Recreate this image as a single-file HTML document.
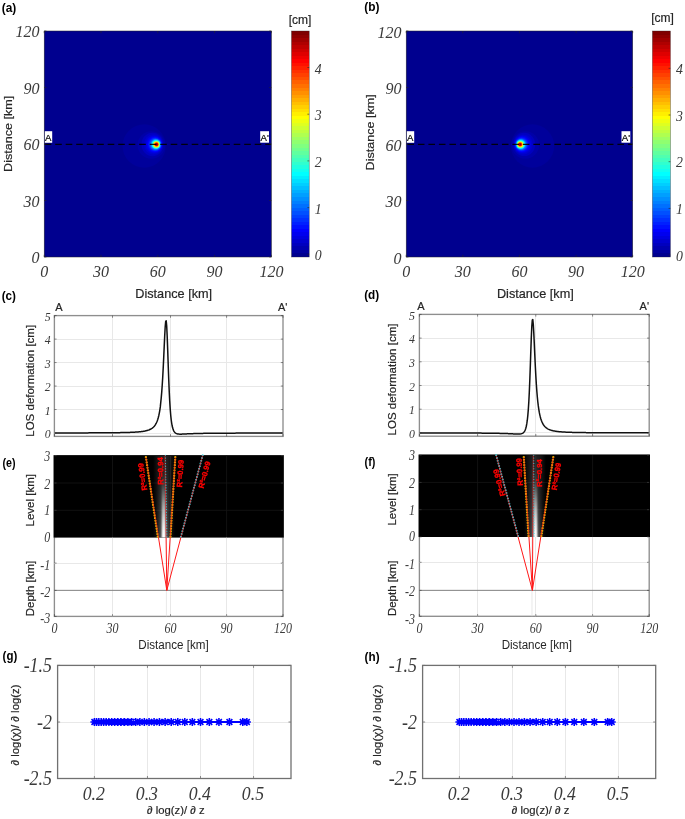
<!DOCTYPE html>
<html><head><meta charset="utf-8"><title>Figure</title>
<style>
html,body{margin:0;padding:0;background:#fff;}
body{width:685px;height:819px;overflow:hidden;font-family:"Liberation Sans",sans-serif;}
svg{display:block;}
</style></head><body>
<svg width="685" height="819" viewBox="0 0 685 819">
<rect x="0" y="0" width="685" height="819" fill="#fff"/>
<defs><filter id="idf" x="0" y="0" width="685" height="819" filterUnits="userSpaceOnUse" color-interpolation-filters="sRGB"><feOffset dx="0" dy="0"/></filter></defs>
<g filter="url(#idf)">
<clipPath id="hca"><rect x="44.2" y="31.0" width="227.20" height="226.00"/></clipPath>
<rect x="44.2" y="31.0" width="227.20" height="226.00" fill="#00008F"/>
<g clip-path="url(#hca)">
<circle cx="144.20" cy="146.00" r="21.7" fill="#00009B"/>
<circle cx="151.40" cy="145.00" r="13.8" fill="#0000A8"/>
<ellipse cx="152.51" cy="144.40" rx="10.98" ry="11.74" fill="#0000BF"/>
<ellipse cx="153.48" cy="144.40" rx="9.52" ry="10.03" fill="#0000CF"/>
<ellipse cx="154.06" cy="144.40" rx="8.56" ry="8.97" fill="#0000DF"/>
<ellipse cx="154.44" cy="144.40" rx="7.84" ry="8.18" fill="#0000EF"/>
<ellipse cx="154.73" cy="144.40" rx="7.29" ry="7.57" fill="#0000FF"/>
<ellipse cx="154.95" cy="144.40" rx="6.83" ry="7.08" fill="#0010FF"/>
<ellipse cx="155.12" cy="144.40" rx="6.44" ry="6.66" fill="#0020FF"/>
<ellipse cx="155.26" cy="144.40" rx="6.12" ry="6.29" fill="#0030FF"/>
<ellipse cx="155.39" cy="144.40" rx="5.83" ry="5.98" fill="#0040FF"/>
<ellipse cx="155.50" cy="144.40" rx="5.57" ry="5.72" fill="#0050FF"/>
<ellipse cx="155.58" cy="144.40" rx="5.34" ry="5.49" fill="#0060FF"/>
<ellipse cx="155.67" cy="144.40" rx="5.13" ry="5.26" fill="#0070FF"/>
<ellipse cx="155.73" cy="144.40" rx="4.92" ry="5.04" fill="#0080FF"/>
<ellipse cx="155.79" cy="144.40" rx="4.75" ry="4.88" fill="#008FFF"/>
<ellipse cx="155.84" cy="144.40" rx="4.58" ry="4.70" fill="#009FFF"/>
<ellipse cx="155.90" cy="144.40" rx="4.45" ry="4.54" fill="#00AFFF"/>
<ellipse cx="155.94" cy="144.40" rx="4.30" ry="4.39" fill="#00BFFF"/>
<ellipse cx="155.99" cy="144.40" rx="4.17" ry="4.24" fill="#00CFFF"/>
<ellipse cx="156.01" cy="144.40" rx="4.03" ry="4.13" fill="#00DFFF"/>
<ellipse cx="156.05" cy="144.40" rx="3.92" ry="3.98" fill="#00EFFF"/>
<ellipse cx="156.09" cy="144.40" rx="3.81" ry="3.86" fill="#00FFFF"/>
<ellipse cx="156.11" cy="144.40" rx="3.67" ry="3.75" fill="#10FFEF"/>
<ellipse cx="156.13" cy="144.40" rx="3.58" ry="3.64" fill="#20FFDF"/>
<ellipse cx="156.16" cy="144.40" rx="3.46" ry="3.52" fill="#30FFCF"/>
<ellipse cx="156.18" cy="144.40" rx="3.37" ry="3.45" fill="#40FFBF"/>
<ellipse cx="156.20" cy="144.40" rx="3.28" ry="3.33" fill="#50FFAF"/>
<ellipse cx="156.24" cy="144.40" rx="3.20" ry="3.26" fill="#60FF9F"/>
<ellipse cx="156.26" cy="144.40" rx="3.11" ry="3.14" fill="#70FF8F"/>
<ellipse cx="156.28" cy="144.40" rx="3.01" ry="3.07" fill="#80FF80"/>
<ellipse cx="156.30" cy="144.40" rx="2.92" ry="2.95" fill="#8FFF70"/>
<ellipse cx="156.32" cy="144.40" rx="2.86" ry="2.88" fill="#9FFF60"/>
<ellipse cx="156.33" cy="144.40" rx="2.76" ry="2.80" fill="#AFFF50"/>
<ellipse cx="156.33" cy="144.40" rx="2.69" ry="2.73" fill="#BFFF40"/>
<ellipse cx="156.37" cy="144.40" rx="2.61" ry="2.65" fill="#CFFF30"/>
<ellipse cx="156.37" cy="144.40" rx="2.54" ry="2.57" fill="#DFFF20"/>
<ellipse cx="156.37" cy="144.40" rx="2.46" ry="2.50" fill="#EFFF10"/>
<ellipse cx="156.41" cy="144.40" rx="2.39" ry="2.42" fill="#FFFF00"/>
<ellipse cx="156.41" cy="144.40" rx="2.31" ry="2.35" fill="#FFEF00"/>
<ellipse cx="156.41" cy="144.40" rx="2.23" ry="2.27" fill="#FFDF00"/>
<ellipse cx="156.43" cy="144.40" rx="2.18" ry="2.20" fill="#FFCF00"/>
<ellipse cx="156.45" cy="144.40" rx="2.08" ry="2.12" fill="#FFBF00"/>
<ellipse cx="156.47" cy="144.40" rx="2.03" ry="2.04" fill="#FFAF00"/>
<ellipse cx="156.47" cy="144.40" rx="1.95" ry="1.97" fill="#FF9F00"/>
<ellipse cx="156.49" cy="144.40" rx="1.89" ry="1.89" fill="#FF8F00"/>
<ellipse cx="156.49" cy="144.40" rx="1.82" ry="1.86" fill="#FF8000"/>
<ellipse cx="156.49" cy="144.40" rx="1.74" ry="1.78" fill="#FF7000"/>
<ellipse cx="156.51" cy="144.40" rx="1.69" ry="1.70" fill="#FF6000"/>
<ellipse cx="156.51" cy="144.40" rx="1.61" ry="1.63" fill="#FF5000"/>
<ellipse cx="156.52" cy="144.40" rx="1.55" ry="1.55" fill="#FF4000"/>
<ellipse cx="156.52" cy="144.40" rx="1.48" ry="1.48" fill="#FF3000"/>
<ellipse cx="156.54" cy="144.40" rx="1.38" ry="1.40" fill="#FF2000"/>
<ellipse cx="156.54" cy="144.40" rx="1.31" ry="1.33" fill="#FF1000"/>
<ellipse cx="156.54" cy="144.40" rx="1.23" ry="1.25" fill="#FF0000"/>
<ellipse cx="156.56" cy="144.40" rx="1.17" ry="1.17" fill="#EF0000"/>
<ellipse cx="156.58" cy="144.40" rx="1.08" ry="1.10" fill="#DF0000"/>
<ellipse cx="156.58" cy="144.40" rx="1.00" ry="1.02" fill="#CF0000"/>
<ellipse cx="156.58" cy="144.40" rx="0.89" ry="0.91" fill="#BF0000"/>
<ellipse cx="156.58" cy="144.40" rx="0.81" ry="0.80" fill="#AF0000"/>
<ellipse cx="156.58" cy="144.40" rx="0.70" ry="0.72" fill="#9F0000"/>
<ellipse cx="156.60" cy="144.40" rx="0.57" ry="0.57" fill="#8F0000"/>
<ellipse cx="156.60" cy="144.40" rx="0.42" ry="0.42" fill="#800000"/>
</g>
<line x1="44.20" y1="144.40" x2="270.90" y2="144.40" stroke="#000" stroke-width="1.3" stroke-dasharray="6.6 3.9" stroke-dashoffset="-0.5" stroke-opacity="0.9"/>
<rect x="44.70" y="131.2" width="7.5" height="11.6" fill="#fff"/>
<text x="45.10" y="141.00" font-family="Liberation Sans, sans-serif" font-size="9.6" text-anchor="start" fill="#000" stroke="#000" stroke-width="0.2" >A</text>
<rect x="260.20" y="131.2" width="8.8" height="11.5" fill="#fff"/>
<text x="260.50" y="141.00" font-family="Liberation Sans, sans-serif" font-size="9.6" text-anchor="start" fill="#000" stroke="#000" stroke-width="0.2" >A'</text>
<rect x="44.20" y="31.00" width="227.20" height="226.00" fill="none" stroke="#262626" stroke-width="0.5"/>
<line x1="44.20" y1="257.00" x2="44.20" y2="254.80" stroke="#262626" stroke-width="0.6" />
<line x1="44.20" y1="31.00" x2="44.20" y2="33.20" stroke="#262626" stroke-width="0.6" />
<line x1="44.20" y1="257.00" x2="46.40" y2="257.00" stroke="#262626" stroke-width="0.6" />
<line x1="271.40" y1="257.00" x2="269.20" y2="257.00" stroke="#262626" stroke-width="0.6" />
<text x="44.20" y="277.00" font-family="Liberation Serif, sans-serif" font-size="16" text-anchor="middle" fill="#3a3a3a" font-style="italic" >0</text>
<text x="39.40" y="263.20" font-family="Liberation Serif, sans-serif" font-size="16" text-anchor="end" fill="#3a3a3a" font-style="italic" >0</text>
<line x1="101.00" y1="257.00" x2="101.00" y2="254.80" stroke="#262626" stroke-width="0.6" />
<line x1="101.00" y1="31.00" x2="101.00" y2="33.20" stroke="#262626" stroke-width="0.6" />
<line x1="44.20" y1="200.50" x2="46.40" y2="200.50" stroke="#262626" stroke-width="0.6" />
<line x1="271.40" y1="200.50" x2="269.20" y2="200.50" stroke="#262626" stroke-width="0.6" />
<text x="101.00" y="277.00" font-family="Liberation Serif, sans-serif" font-size="16" text-anchor="middle" fill="#3a3a3a" font-style="italic" >30</text>
<text x="39.40" y="206.70" font-family="Liberation Serif, sans-serif" font-size="16" text-anchor="end" fill="#3a3a3a" font-style="italic" >30</text>
<line x1="157.80" y1="257.00" x2="157.80" y2="254.80" stroke="#262626" stroke-width="0.6" />
<line x1="157.80" y1="31.00" x2="157.80" y2="33.20" stroke="#262626" stroke-width="0.6" />
<line x1="44.20" y1="144.00" x2="46.40" y2="144.00" stroke="#262626" stroke-width="0.6" />
<line x1="271.40" y1="144.00" x2="269.20" y2="144.00" stroke="#262626" stroke-width="0.6" />
<text x="157.80" y="277.00" font-family="Liberation Serif, sans-serif" font-size="16" text-anchor="middle" fill="#3a3a3a" font-style="italic" >60</text>
<text x="39.40" y="150.20" font-family="Liberation Serif, sans-serif" font-size="16" text-anchor="end" fill="#3a3a3a" font-style="italic" >60</text>
<line x1="214.60" y1="257.00" x2="214.60" y2="254.80" stroke="#262626" stroke-width="0.6" />
<line x1="214.60" y1="31.00" x2="214.60" y2="33.20" stroke="#262626" stroke-width="0.6" />
<line x1="44.20" y1="87.50" x2="46.40" y2="87.50" stroke="#262626" stroke-width="0.6" />
<line x1="271.40" y1="87.50" x2="269.20" y2="87.50" stroke="#262626" stroke-width="0.6" />
<text x="214.60" y="277.00" font-family="Liberation Serif, sans-serif" font-size="16" text-anchor="middle" fill="#3a3a3a" font-style="italic" >90</text>
<text x="39.40" y="93.70" font-family="Liberation Serif, sans-serif" font-size="16" text-anchor="end" fill="#3a3a3a" font-style="italic" >90</text>
<line x1="271.40" y1="257.00" x2="271.40" y2="254.80" stroke="#262626" stroke-width="0.6" />
<line x1="271.40" y1="31.00" x2="271.40" y2="33.20" stroke="#262626" stroke-width="0.6" />
<line x1="44.20" y1="31.00" x2="46.40" y2="31.00" stroke="#262626" stroke-width="0.6" />
<line x1="271.40" y1="31.00" x2="269.20" y2="31.00" stroke="#262626" stroke-width="0.6" />
<text x="271.40" y="277.00" font-family="Liberation Serif, sans-serif" font-size="16" text-anchor="middle" fill="#3a3a3a" font-style="italic" >120</text>
<text x="39.40" y="37.20" font-family="Liberation Serif, sans-serif" font-size="16" text-anchor="end" fill="#3a3a3a" font-style="italic" >120</text>
<text x="173.70" y="298.00" font-family="Liberation Sans, sans-serif" font-size="12.7" text-anchor="middle" fill="#262626" stroke="#262626" stroke-width="0.2" >Distance [km]</text>
<text transform="translate(12.20 133.8) rotate(-90) scale(1 0.93)" font-family="Liberation Sans, sans-serif" font-size="12.6" text-anchor="middle" fill="#262626" stroke="#262626" stroke-width="0.2">Distance [km]</text>
<defs><linearGradient id="cba" x1="0" y1="1" x2="0" y2="0"><stop offset="0.00000" stop-color="#00008F"/><stop offset="0.01562" stop-color="#00008F"/><stop offset="0.01562" stop-color="#00009F"/><stop offset="0.03125" stop-color="#00009F"/><stop offset="0.03125" stop-color="#0000AF"/><stop offset="0.04688" stop-color="#0000AF"/><stop offset="0.04688" stop-color="#0000BF"/><stop offset="0.06250" stop-color="#0000BF"/><stop offset="0.06250" stop-color="#0000CF"/><stop offset="0.07812" stop-color="#0000CF"/><stop offset="0.07812" stop-color="#0000DF"/><stop offset="0.09375" stop-color="#0000DF"/><stop offset="0.09375" stop-color="#0000EF"/><stop offset="0.10938" stop-color="#0000EF"/><stop offset="0.10938" stop-color="#0000FF"/><stop offset="0.12500" stop-color="#0000FF"/><stop offset="0.12500" stop-color="#0010FF"/><stop offset="0.14062" stop-color="#0010FF"/><stop offset="0.14062" stop-color="#0020FF"/><stop offset="0.15625" stop-color="#0020FF"/><stop offset="0.15625" stop-color="#0030FF"/><stop offset="0.17188" stop-color="#0030FF"/><stop offset="0.17188" stop-color="#0040FF"/><stop offset="0.18750" stop-color="#0040FF"/><stop offset="0.18750" stop-color="#0050FF"/><stop offset="0.20312" stop-color="#0050FF"/><stop offset="0.20312" stop-color="#0060FF"/><stop offset="0.21875" stop-color="#0060FF"/><stop offset="0.21875" stop-color="#0070FF"/><stop offset="0.23438" stop-color="#0070FF"/><stop offset="0.23438" stop-color="#0080FF"/><stop offset="0.25000" stop-color="#0080FF"/><stop offset="0.25000" stop-color="#008FFF"/><stop offset="0.26562" stop-color="#008FFF"/><stop offset="0.26562" stop-color="#009FFF"/><stop offset="0.28125" stop-color="#009FFF"/><stop offset="0.28125" stop-color="#00AFFF"/><stop offset="0.29688" stop-color="#00AFFF"/><stop offset="0.29688" stop-color="#00BFFF"/><stop offset="0.31250" stop-color="#00BFFF"/><stop offset="0.31250" stop-color="#00CFFF"/><stop offset="0.32812" stop-color="#00CFFF"/><stop offset="0.32812" stop-color="#00DFFF"/><stop offset="0.34375" stop-color="#00DFFF"/><stop offset="0.34375" stop-color="#00EFFF"/><stop offset="0.35938" stop-color="#00EFFF"/><stop offset="0.35938" stop-color="#00FFFF"/><stop offset="0.37500" stop-color="#00FFFF"/><stop offset="0.37500" stop-color="#10FFEF"/><stop offset="0.39062" stop-color="#10FFEF"/><stop offset="0.39062" stop-color="#20FFDF"/><stop offset="0.40625" stop-color="#20FFDF"/><stop offset="0.40625" stop-color="#30FFCF"/><stop offset="0.42188" stop-color="#30FFCF"/><stop offset="0.42188" stop-color="#40FFBF"/><stop offset="0.43750" stop-color="#40FFBF"/><stop offset="0.43750" stop-color="#50FFAF"/><stop offset="0.45312" stop-color="#50FFAF"/><stop offset="0.45312" stop-color="#60FF9F"/><stop offset="0.46875" stop-color="#60FF9F"/><stop offset="0.46875" stop-color="#70FF8F"/><stop offset="0.48438" stop-color="#70FF8F"/><stop offset="0.48438" stop-color="#80FF80"/><stop offset="0.50000" stop-color="#80FF80"/><stop offset="0.50000" stop-color="#8FFF70"/><stop offset="0.51562" stop-color="#8FFF70"/><stop offset="0.51562" stop-color="#9FFF60"/><stop offset="0.53125" stop-color="#9FFF60"/><stop offset="0.53125" stop-color="#AFFF50"/><stop offset="0.54688" stop-color="#AFFF50"/><stop offset="0.54688" stop-color="#BFFF40"/><stop offset="0.56250" stop-color="#BFFF40"/><stop offset="0.56250" stop-color="#CFFF30"/><stop offset="0.57812" stop-color="#CFFF30"/><stop offset="0.57812" stop-color="#DFFF20"/><stop offset="0.59375" stop-color="#DFFF20"/><stop offset="0.59375" stop-color="#EFFF10"/><stop offset="0.60938" stop-color="#EFFF10"/><stop offset="0.60938" stop-color="#FFFF00"/><stop offset="0.62500" stop-color="#FFFF00"/><stop offset="0.62500" stop-color="#FFEF00"/><stop offset="0.64062" stop-color="#FFEF00"/><stop offset="0.64062" stop-color="#FFDF00"/><stop offset="0.65625" stop-color="#FFDF00"/><stop offset="0.65625" stop-color="#FFCF00"/><stop offset="0.67188" stop-color="#FFCF00"/><stop offset="0.67188" stop-color="#FFBF00"/><stop offset="0.68750" stop-color="#FFBF00"/><stop offset="0.68750" stop-color="#FFAF00"/><stop offset="0.70312" stop-color="#FFAF00"/><stop offset="0.70312" stop-color="#FF9F00"/><stop offset="0.71875" stop-color="#FF9F00"/><stop offset="0.71875" stop-color="#FF8F00"/><stop offset="0.73438" stop-color="#FF8F00"/><stop offset="0.73438" stop-color="#FF8000"/><stop offset="0.75000" stop-color="#FF8000"/><stop offset="0.75000" stop-color="#FF7000"/><stop offset="0.76562" stop-color="#FF7000"/><stop offset="0.76562" stop-color="#FF6000"/><stop offset="0.78125" stop-color="#FF6000"/><stop offset="0.78125" stop-color="#FF5000"/><stop offset="0.79688" stop-color="#FF5000"/><stop offset="0.79688" stop-color="#FF4000"/><stop offset="0.81250" stop-color="#FF4000"/><stop offset="0.81250" stop-color="#FF3000"/><stop offset="0.82812" stop-color="#FF3000"/><stop offset="0.82812" stop-color="#FF2000"/><stop offset="0.84375" stop-color="#FF2000"/><stop offset="0.84375" stop-color="#FF1000"/><stop offset="0.85938" stop-color="#FF1000"/><stop offset="0.85938" stop-color="#FF0000"/><stop offset="0.87500" stop-color="#FF0000"/><stop offset="0.87500" stop-color="#EF0000"/><stop offset="0.89062" stop-color="#EF0000"/><stop offset="0.89062" stop-color="#DF0000"/><stop offset="0.90625" stop-color="#DF0000"/><stop offset="0.90625" stop-color="#CF0000"/><stop offset="0.92188" stop-color="#CF0000"/><stop offset="0.92188" stop-color="#BF0000"/><stop offset="0.93750" stop-color="#BF0000"/><stop offset="0.93750" stop-color="#AF0000"/><stop offset="0.95312" stop-color="#AF0000"/><stop offset="0.95312" stop-color="#9F0000"/><stop offset="0.96875" stop-color="#9F0000"/><stop offset="0.96875" stop-color="#8F0000"/><stop offset="0.98438" stop-color="#8F0000"/><stop offset="0.98438" stop-color="#800000"/><stop offset="1.00000" stop-color="#800000"/></linearGradient></defs>
<rect x="291.5" y="31.0" width="17.70" height="226.00" fill="url(#cba)"/>
<rect x="291.5" y="31.0" width="17.70" height="226.00" fill="none" stroke="#262626" stroke-width="0.5" stroke-opacity="0.7"/>
<line x1="309.20" y1="254.30" x2="307.40" y2="254.30" stroke="#262626" stroke-width="0.6" />
<text x="314.80" y="260.30" font-family="Liberation Serif, sans-serif" font-size="13.8" text-anchor="start" fill="#3a3a3a" font-style="italic" >0</text>
<line x1="309.20" y1="207.60" x2="307.40" y2="207.60" stroke="#262626" stroke-width="0.6" />
<text x="314.80" y="213.60" font-family="Liberation Serif, sans-serif" font-size="13.8" text-anchor="start" fill="#3a3a3a" font-style="italic" >1</text>
<line x1="309.20" y1="160.90" x2="307.40" y2="160.90" stroke="#262626" stroke-width="0.6" />
<text x="314.80" y="166.90" font-family="Liberation Serif, sans-serif" font-size="13.8" text-anchor="start" fill="#3a3a3a" font-style="italic" >2</text>
<line x1="309.20" y1="114.20" x2="307.40" y2="114.20" stroke="#262626" stroke-width="0.6" />
<text x="314.80" y="120.20" font-family="Liberation Serif, sans-serif" font-size="13.8" text-anchor="start" fill="#3a3a3a" font-style="italic" >3</text>
<line x1="309.20" y1="67.50" x2="307.40" y2="67.50" stroke="#262626" stroke-width="0.6" />
<text x="314.80" y="73.50" font-family="Liberation Serif, sans-serif" font-size="13.8" text-anchor="start" fill="#3a3a3a" font-style="italic" >4</text>
<text x="300.05" y="24.20" font-family="Liberation Sans, sans-serif" font-size="12" text-anchor="middle" fill="#262626" stroke="#262626" stroke-width="0.2" >[cm]</text>
<text transform="translate(1.7 12.4) scale(0.976 1.0)" font-family="Liberation Sans, sans-serif" font-size="12.2" font-weight="bold" fill="#000">(a)</text>
<clipPath id="hcb"><rect x="406.2" y="31.0" width="226.50" height="226.00"/></clipPath>
<rect x="406.2" y="31.0" width="226.50" height="226.00" fill="#00008F"/>
<g clip-path="url(#hcb)">
<circle cx="532.50" cy="146.00" r="21.7" fill="#00009B"/>
<circle cx="525.30" cy="145.00" r="13.8" fill="#0000A8"/>
<ellipse cx="524.18" cy="144.40" rx="10.95" ry="11.70" fill="#0000BF"/>
<ellipse cx="523.21" cy="144.40" rx="9.49" ry="10.00" fill="#0000CF"/>
<ellipse cx="522.63" cy="144.40" rx="8.53" ry="8.95" fill="#0000DF"/>
<ellipse cx="522.25" cy="144.40" rx="7.81" ry="8.15" fill="#0000EF"/>
<ellipse cx="521.97" cy="144.40" rx="7.27" ry="7.55" fill="#0000FF"/>
<ellipse cx="521.74" cy="144.40" rx="6.81" ry="7.06" fill="#0010FF"/>
<ellipse cx="521.57" cy="144.40" rx="6.42" ry="6.64" fill="#0020FF"/>
<ellipse cx="521.44" cy="144.40" rx="6.10" ry="6.27" fill="#0030FF"/>
<ellipse cx="521.31" cy="144.40" rx="5.81" ry="5.96" fill="#0040FF"/>
<ellipse cx="521.19" cy="144.40" rx="5.55" ry="5.70" fill="#0050FF"/>
<ellipse cx="521.12" cy="144.40" rx="5.32" ry="5.47" fill="#0060FF"/>
<ellipse cx="521.02" cy="144.40" rx="5.12" ry="5.25" fill="#0070FF"/>
<ellipse cx="520.97" cy="144.40" rx="4.91" ry="5.02" fill="#0080FF"/>
<ellipse cx="520.91" cy="144.40" rx="4.74" ry="4.87" fill="#008FFF"/>
<ellipse cx="520.86" cy="144.40" rx="4.57" ry="4.68" fill="#009FFF"/>
<ellipse cx="520.80" cy="144.40" rx="4.44" ry="4.53" fill="#00AFFF"/>
<ellipse cx="520.76" cy="144.40" rx="4.28" ry="4.38" fill="#00BFFF"/>
<ellipse cx="520.70" cy="144.40" rx="4.15" ry="4.23" fill="#00CFFF"/>
<ellipse cx="520.69" cy="144.40" rx="4.02" ry="4.11" fill="#00DFFF"/>
<ellipse cx="520.65" cy="144.40" rx="3.91" ry="3.96" fill="#00EFFF"/>
<ellipse cx="520.61" cy="144.40" rx="3.79" ry="3.85" fill="#00FFFF"/>
<ellipse cx="520.59" cy="144.40" rx="3.66" ry="3.74" fill="#10FFEF"/>
<ellipse cx="520.57" cy="144.40" rx="3.57" ry="3.62" fill="#20FFDF"/>
<ellipse cx="520.53" cy="144.40" rx="3.45" ry="3.51" fill="#30FFCF"/>
<ellipse cx="520.52" cy="144.40" rx="3.36" ry="3.44" fill="#40FFBF"/>
<ellipse cx="520.50" cy="144.40" rx="3.27" ry="3.32" fill="#50FFAF"/>
<ellipse cx="520.46" cy="144.40" rx="3.19" ry="3.25" fill="#60FF9F"/>
<ellipse cx="520.44" cy="144.40" rx="3.10" ry="3.13" fill="#70FF8F"/>
<ellipse cx="520.42" cy="144.40" rx="3.00" ry="3.06" fill="#80FF80"/>
<ellipse cx="520.40" cy="144.40" rx="2.91" ry="2.94" fill="#8FFF70"/>
<ellipse cx="520.38" cy="144.40" rx="2.85" ry="2.87" fill="#9FFF60"/>
<ellipse cx="520.36" cy="144.40" rx="2.76" ry="2.79" fill="#AFFF50"/>
<ellipse cx="520.36" cy="144.40" rx="2.68" ry="2.72" fill="#BFFF40"/>
<ellipse cx="520.33" cy="144.40" rx="2.60" ry="2.64" fill="#CFFF30"/>
<ellipse cx="520.33" cy="144.40" rx="2.53" ry="2.57" fill="#DFFF20"/>
<ellipse cx="520.33" cy="144.40" rx="2.45" ry="2.49" fill="#EFFF10"/>
<ellipse cx="520.29" cy="144.40" rx="2.38" ry="2.42" fill="#FFFF00"/>
<ellipse cx="520.29" cy="144.40" rx="2.30" ry="2.34" fill="#FFEF00"/>
<ellipse cx="520.29" cy="144.40" rx="2.23" ry="2.27" fill="#FFDF00"/>
<ellipse cx="520.27" cy="144.40" rx="2.17" ry="2.19" fill="#FFCF00"/>
<ellipse cx="520.25" cy="144.40" rx="2.08" ry="2.11" fill="#FFBF00"/>
<ellipse cx="520.23" cy="144.40" rx="2.02" ry="2.04" fill="#FFAF00"/>
<ellipse cx="520.23" cy="144.40" rx="1.94" ry="1.96" fill="#FF9F00"/>
<ellipse cx="520.21" cy="144.40" rx="1.89" ry="1.89" fill="#FF8F00"/>
<ellipse cx="520.21" cy="144.40" rx="1.81" ry="1.85" fill="#FF8000"/>
<ellipse cx="520.21" cy="144.40" rx="1.74" ry="1.77" fill="#FF7000"/>
<ellipse cx="520.19" cy="144.40" rx="1.68" ry="1.70" fill="#FF6000"/>
<ellipse cx="520.19" cy="144.40" rx="1.60" ry="1.62" fill="#FF5000"/>
<ellipse cx="520.18" cy="144.40" rx="1.55" ry="1.55" fill="#FF4000"/>
<ellipse cx="520.18" cy="144.40" rx="1.47" ry="1.47" fill="#FF3000"/>
<ellipse cx="520.16" cy="144.40" rx="1.38" ry="1.40" fill="#FF2000"/>
<ellipse cx="520.16" cy="144.40" rx="1.30" ry="1.32" fill="#FF1000"/>
<ellipse cx="520.16" cy="144.40" rx="1.23" ry="1.25" fill="#FF0000"/>
<ellipse cx="520.14" cy="144.40" rx="1.17" ry="1.17" fill="#EF0000"/>
<ellipse cx="520.12" cy="144.40" rx="1.08" ry="1.09" fill="#DF0000"/>
<ellipse cx="520.12" cy="144.40" rx="1.00" ry="1.02" fill="#CF0000"/>
<ellipse cx="520.12" cy="144.40" rx="0.89" ry="0.91" fill="#BF0000"/>
<ellipse cx="520.12" cy="144.40" rx="0.81" ry="0.79" fill="#AF0000"/>
<ellipse cx="520.12" cy="144.40" rx="0.70" ry="0.72" fill="#9F0000"/>
<ellipse cx="520.10" cy="144.40" rx="0.57" ry="0.57" fill="#8F0000"/>
<ellipse cx="520.10" cy="144.40" rx="0.42" ry="0.42" fill="#800000"/>
</g>
<line x1="406.20" y1="144.40" x2="632.20" y2="144.40" stroke="#000" stroke-width="1.3" stroke-dasharray="6.6 3.9" stroke-dashoffset="-1.2" stroke-opacity="0.9"/>
<rect x="406.70" y="131.2" width="7.5" height="11.6" fill="#fff"/>
<text x="407.10" y="141.00" font-family="Liberation Sans, sans-serif" font-size="9.6" text-anchor="start" fill="#000" stroke="#000" stroke-width="0.2" >A</text>
<rect x="621.50" y="131.2" width="8.8" height="11.5" fill="#fff"/>
<text x="621.80" y="141.00" font-family="Liberation Sans, sans-serif" font-size="9.6" text-anchor="start" fill="#000" stroke="#000" stroke-width="0.2" >A'</text>
<rect x="406.20" y="31.00" width="226.50" height="226.00" fill="none" stroke="#262626" stroke-width="0.5"/>
<line x1="406.20" y1="257.00" x2="406.20" y2="254.80" stroke="#262626" stroke-width="0.6" />
<line x1="406.20" y1="31.00" x2="406.20" y2="33.20" stroke="#262626" stroke-width="0.6" />
<line x1="406.20" y1="257.00" x2="408.40" y2="257.00" stroke="#262626" stroke-width="0.6" />
<line x1="632.70" y1="257.00" x2="630.50" y2="257.00" stroke="#262626" stroke-width="0.6" />
<text x="406.20" y="277.00" font-family="Liberation Serif, sans-serif" font-size="16" text-anchor="middle" fill="#3a3a3a" font-style="italic" >0</text>
<text x="401.40" y="263.50" font-family="Liberation Serif, sans-serif" font-size="16" text-anchor="end" fill="#3a3a3a" font-style="italic" >0</text>
<line x1="462.82" y1="257.00" x2="462.82" y2="254.80" stroke="#262626" stroke-width="0.6" />
<line x1="462.82" y1="31.00" x2="462.82" y2="33.20" stroke="#262626" stroke-width="0.6" />
<line x1="406.20" y1="200.50" x2="408.40" y2="200.50" stroke="#262626" stroke-width="0.6" />
<line x1="632.70" y1="200.50" x2="630.50" y2="200.50" stroke="#262626" stroke-width="0.6" />
<text x="462.82" y="277.00" font-family="Liberation Serif, sans-serif" font-size="16" text-anchor="middle" fill="#3a3a3a" font-style="italic" >30</text>
<text x="401.40" y="207.00" font-family="Liberation Serif, sans-serif" font-size="16" text-anchor="end" fill="#3a3a3a" font-style="italic" >30</text>
<line x1="519.45" y1="257.00" x2="519.45" y2="254.80" stroke="#262626" stroke-width="0.6" />
<line x1="519.45" y1="31.00" x2="519.45" y2="33.20" stroke="#262626" stroke-width="0.6" />
<line x1="406.20" y1="144.00" x2="408.40" y2="144.00" stroke="#262626" stroke-width="0.6" />
<line x1="632.70" y1="144.00" x2="630.50" y2="144.00" stroke="#262626" stroke-width="0.6" />
<text x="519.45" y="277.00" font-family="Liberation Serif, sans-serif" font-size="16" text-anchor="middle" fill="#3a3a3a" font-style="italic" >60</text>
<text x="401.40" y="150.50" font-family="Liberation Serif, sans-serif" font-size="16" text-anchor="end" fill="#3a3a3a" font-style="italic" >60</text>
<line x1="576.08" y1="257.00" x2="576.08" y2="254.80" stroke="#262626" stroke-width="0.6" />
<line x1="576.08" y1="31.00" x2="576.08" y2="33.20" stroke="#262626" stroke-width="0.6" />
<line x1="406.20" y1="87.50" x2="408.40" y2="87.50" stroke="#262626" stroke-width="0.6" />
<line x1="632.70" y1="87.50" x2="630.50" y2="87.50" stroke="#262626" stroke-width="0.6" />
<text x="576.08" y="277.00" font-family="Liberation Serif, sans-serif" font-size="16" text-anchor="middle" fill="#3a3a3a" font-style="italic" >90</text>
<text x="401.40" y="94.00" font-family="Liberation Serif, sans-serif" font-size="16" text-anchor="end" fill="#3a3a3a" font-style="italic" >90</text>
<line x1="632.70" y1="257.00" x2="632.70" y2="254.80" stroke="#262626" stroke-width="0.6" />
<line x1="632.70" y1="31.00" x2="632.70" y2="33.20" stroke="#262626" stroke-width="0.6" />
<line x1="406.20" y1="31.00" x2="408.40" y2="31.00" stroke="#262626" stroke-width="0.6" />
<line x1="632.70" y1="31.00" x2="630.50" y2="31.00" stroke="#262626" stroke-width="0.6" />
<text x="632.70" y="277.00" font-family="Liberation Serif, sans-serif" font-size="16" text-anchor="middle" fill="#3a3a3a" font-style="italic" >120</text>
<text x="401.40" y="37.50" font-family="Liberation Serif, sans-serif" font-size="16" text-anchor="end" fill="#3a3a3a" font-style="italic" >120</text>
<text x="535.35" y="298.00" font-family="Liberation Sans, sans-serif" font-size="12.7" text-anchor="middle" fill="#262626" stroke="#262626" stroke-width="0.2" >Distance [km]</text>
<text transform="translate(374.20 132.3) rotate(-90) scale(1 0.93)" font-family="Liberation Sans, sans-serif" font-size="12.6" text-anchor="middle" fill="#262626" stroke="#262626" stroke-width="0.2">Distance [km]</text>
<defs><linearGradient id="cbb" x1="0" y1="1" x2="0" y2="0"><stop offset="0.00000" stop-color="#00008F"/><stop offset="0.01562" stop-color="#00008F"/><stop offset="0.01562" stop-color="#00009F"/><stop offset="0.03125" stop-color="#00009F"/><stop offset="0.03125" stop-color="#0000AF"/><stop offset="0.04688" stop-color="#0000AF"/><stop offset="0.04688" stop-color="#0000BF"/><stop offset="0.06250" stop-color="#0000BF"/><stop offset="0.06250" stop-color="#0000CF"/><stop offset="0.07812" stop-color="#0000CF"/><stop offset="0.07812" stop-color="#0000DF"/><stop offset="0.09375" stop-color="#0000DF"/><stop offset="0.09375" stop-color="#0000EF"/><stop offset="0.10938" stop-color="#0000EF"/><stop offset="0.10938" stop-color="#0000FF"/><stop offset="0.12500" stop-color="#0000FF"/><stop offset="0.12500" stop-color="#0010FF"/><stop offset="0.14062" stop-color="#0010FF"/><stop offset="0.14062" stop-color="#0020FF"/><stop offset="0.15625" stop-color="#0020FF"/><stop offset="0.15625" stop-color="#0030FF"/><stop offset="0.17188" stop-color="#0030FF"/><stop offset="0.17188" stop-color="#0040FF"/><stop offset="0.18750" stop-color="#0040FF"/><stop offset="0.18750" stop-color="#0050FF"/><stop offset="0.20312" stop-color="#0050FF"/><stop offset="0.20312" stop-color="#0060FF"/><stop offset="0.21875" stop-color="#0060FF"/><stop offset="0.21875" stop-color="#0070FF"/><stop offset="0.23438" stop-color="#0070FF"/><stop offset="0.23438" stop-color="#0080FF"/><stop offset="0.25000" stop-color="#0080FF"/><stop offset="0.25000" stop-color="#008FFF"/><stop offset="0.26562" stop-color="#008FFF"/><stop offset="0.26562" stop-color="#009FFF"/><stop offset="0.28125" stop-color="#009FFF"/><stop offset="0.28125" stop-color="#00AFFF"/><stop offset="0.29688" stop-color="#00AFFF"/><stop offset="0.29688" stop-color="#00BFFF"/><stop offset="0.31250" stop-color="#00BFFF"/><stop offset="0.31250" stop-color="#00CFFF"/><stop offset="0.32812" stop-color="#00CFFF"/><stop offset="0.32812" stop-color="#00DFFF"/><stop offset="0.34375" stop-color="#00DFFF"/><stop offset="0.34375" stop-color="#00EFFF"/><stop offset="0.35938" stop-color="#00EFFF"/><stop offset="0.35938" stop-color="#00FFFF"/><stop offset="0.37500" stop-color="#00FFFF"/><stop offset="0.37500" stop-color="#10FFEF"/><stop offset="0.39062" stop-color="#10FFEF"/><stop offset="0.39062" stop-color="#20FFDF"/><stop offset="0.40625" stop-color="#20FFDF"/><stop offset="0.40625" stop-color="#30FFCF"/><stop offset="0.42188" stop-color="#30FFCF"/><stop offset="0.42188" stop-color="#40FFBF"/><stop offset="0.43750" stop-color="#40FFBF"/><stop offset="0.43750" stop-color="#50FFAF"/><stop offset="0.45312" stop-color="#50FFAF"/><stop offset="0.45312" stop-color="#60FF9F"/><stop offset="0.46875" stop-color="#60FF9F"/><stop offset="0.46875" stop-color="#70FF8F"/><stop offset="0.48438" stop-color="#70FF8F"/><stop offset="0.48438" stop-color="#80FF80"/><stop offset="0.50000" stop-color="#80FF80"/><stop offset="0.50000" stop-color="#8FFF70"/><stop offset="0.51562" stop-color="#8FFF70"/><stop offset="0.51562" stop-color="#9FFF60"/><stop offset="0.53125" stop-color="#9FFF60"/><stop offset="0.53125" stop-color="#AFFF50"/><stop offset="0.54688" stop-color="#AFFF50"/><stop offset="0.54688" stop-color="#BFFF40"/><stop offset="0.56250" stop-color="#BFFF40"/><stop offset="0.56250" stop-color="#CFFF30"/><stop offset="0.57812" stop-color="#CFFF30"/><stop offset="0.57812" stop-color="#DFFF20"/><stop offset="0.59375" stop-color="#DFFF20"/><stop offset="0.59375" stop-color="#EFFF10"/><stop offset="0.60938" stop-color="#EFFF10"/><stop offset="0.60938" stop-color="#FFFF00"/><stop offset="0.62500" stop-color="#FFFF00"/><stop offset="0.62500" stop-color="#FFEF00"/><stop offset="0.64062" stop-color="#FFEF00"/><stop offset="0.64062" stop-color="#FFDF00"/><stop offset="0.65625" stop-color="#FFDF00"/><stop offset="0.65625" stop-color="#FFCF00"/><stop offset="0.67188" stop-color="#FFCF00"/><stop offset="0.67188" stop-color="#FFBF00"/><stop offset="0.68750" stop-color="#FFBF00"/><stop offset="0.68750" stop-color="#FFAF00"/><stop offset="0.70312" stop-color="#FFAF00"/><stop offset="0.70312" stop-color="#FF9F00"/><stop offset="0.71875" stop-color="#FF9F00"/><stop offset="0.71875" stop-color="#FF8F00"/><stop offset="0.73438" stop-color="#FF8F00"/><stop offset="0.73438" stop-color="#FF8000"/><stop offset="0.75000" stop-color="#FF8000"/><stop offset="0.75000" stop-color="#FF7000"/><stop offset="0.76562" stop-color="#FF7000"/><stop offset="0.76562" stop-color="#FF6000"/><stop offset="0.78125" stop-color="#FF6000"/><stop offset="0.78125" stop-color="#FF5000"/><stop offset="0.79688" stop-color="#FF5000"/><stop offset="0.79688" stop-color="#FF4000"/><stop offset="0.81250" stop-color="#FF4000"/><stop offset="0.81250" stop-color="#FF3000"/><stop offset="0.82812" stop-color="#FF3000"/><stop offset="0.82812" stop-color="#FF2000"/><stop offset="0.84375" stop-color="#FF2000"/><stop offset="0.84375" stop-color="#FF1000"/><stop offset="0.85938" stop-color="#FF1000"/><stop offset="0.85938" stop-color="#FF0000"/><stop offset="0.87500" stop-color="#FF0000"/><stop offset="0.87500" stop-color="#EF0000"/><stop offset="0.89062" stop-color="#EF0000"/><stop offset="0.89062" stop-color="#DF0000"/><stop offset="0.90625" stop-color="#DF0000"/><stop offset="0.90625" stop-color="#CF0000"/><stop offset="0.92188" stop-color="#CF0000"/><stop offset="0.92188" stop-color="#BF0000"/><stop offset="0.93750" stop-color="#BF0000"/><stop offset="0.93750" stop-color="#AF0000"/><stop offset="0.95312" stop-color="#AF0000"/><stop offset="0.95312" stop-color="#9F0000"/><stop offset="0.96875" stop-color="#9F0000"/><stop offset="0.96875" stop-color="#8F0000"/><stop offset="0.98438" stop-color="#8F0000"/><stop offset="0.98438" stop-color="#800000"/><stop offset="1.00000" stop-color="#800000"/></linearGradient></defs>
<rect x="652.4" y="31.0" width="18.00" height="226.00" fill="url(#cbb)"/>
<rect x="652.4" y="31.0" width="18.00" height="226.00" fill="none" stroke="#262626" stroke-width="0.5" stroke-opacity="0.7"/>
<line x1="670.40" y1="255.10" x2="668.60" y2="255.10" stroke="#262626" stroke-width="0.6" />
<text x="676.00" y="260.70" font-family="Liberation Serif, sans-serif" font-size="13.8" text-anchor="start" fill="#3a3a3a" font-style="italic" >0</text>
<line x1="670.40" y1="208.40" x2="668.60" y2="208.40" stroke="#262626" stroke-width="0.6" />
<text x="676.00" y="214.00" font-family="Liberation Serif, sans-serif" font-size="13.8" text-anchor="start" fill="#3a3a3a" font-style="italic" >1</text>
<line x1="670.40" y1="161.70" x2="668.60" y2="161.70" stroke="#262626" stroke-width="0.6" />
<text x="676.00" y="167.30" font-family="Liberation Serif, sans-serif" font-size="13.8" text-anchor="start" fill="#3a3a3a" font-style="italic" >2</text>
<line x1="670.40" y1="115.00" x2="668.60" y2="115.00" stroke="#262626" stroke-width="0.6" />
<text x="676.00" y="120.60" font-family="Liberation Serif, sans-serif" font-size="13.8" text-anchor="start" fill="#3a3a3a" font-style="italic" >3</text>
<line x1="670.40" y1="68.30" x2="668.60" y2="68.30" stroke="#262626" stroke-width="0.6" />
<text x="676.00" y="73.90" font-family="Liberation Serif, sans-serif" font-size="13.8" text-anchor="start" fill="#3a3a3a" font-style="italic" >4</text>
<text x="662.50" y="21.90" font-family="Liberation Sans, sans-serif" font-size="12" text-anchor="middle" fill="#262626" stroke="#262626" stroke-width="0.2" >[cm]</text>
<text transform="translate(364.3 11.0) scale(0.976 1.0)" font-family="Liberation Sans, sans-serif" font-size="12.2" font-weight="bold" fill="#000">(b)</text>
<rect x="54.4" y="315.6" width="228.60" height="120.80" fill="#fff"/>
<line x1="112.50" y1="315.60" x2="112.50" y2="436.40" stroke="#E8E8E8" stroke-width="1.0" />
<line x1="170.50" y1="315.60" x2="170.50" y2="436.40" stroke="#E8E8E8" stroke-width="1.0" />
<line x1="226.50" y1="315.60" x2="226.50" y2="436.40" stroke="#E8E8E8" stroke-width="1.0" />
<line x1="54.40" y1="433.50" x2="283.00" y2="433.50" stroke="#E8E8E8" stroke-width="1.0" />
<line x1="54.40" y1="409.50" x2="283.00" y2="409.50" stroke="#E8E8E8" stroke-width="1.0" />
<line x1="54.40" y1="386.50" x2="283.00" y2="386.50" stroke="#E8E8E8" stroke-width="1.0" />
<line x1="54.40" y1="362.50" x2="283.00" y2="362.50" stroke="#E8E8E8" stroke-width="1.0" />
<line x1="54.40" y1="339.50" x2="283.00" y2="339.50" stroke="#E8E8E8" stroke-width="1.0" />
<polyline points="54.4,432.94 54.9,432.94 55.4,432.94 55.9,432.94 56.4,432.94 56.9,432.94 57.4,432.94 57.9,432.94 58.4,432.94 58.9,432.94 59.4,432.94 59.9,432.94 60.4,432.93 60.9,432.93 61.4,432.93 61.9,432.93 62.4,432.93 62.8,432.93 63.3,432.93 63.8,432.93 64.3,432.93 64.8,432.93 65.3,432.93 65.8,432.93 66.3,432.93 66.8,432.93 67.3,432.92 67.8,432.92 68.3,432.92 68.8,432.92 69.3,432.92 69.8,432.92 70.3,432.92 70.8,432.92 71.3,432.92 71.8,432.92 72.3,432.92 72.8,432.92 73.3,432.91 73.8,432.91 74.3,432.91 74.8,432.91 75.3,432.91 75.8,432.91 76.3,432.91 76.8,432.91 77.3,432.91 77.8,432.90 78.3,432.90 78.8,432.90 79.2,432.90 79.7,432.90 80.2,432.90 80.7,432.90 81.2,432.90 81.7,432.90 82.2,432.89 82.7,432.89 83.2,432.89 83.7,432.89 84.2,432.89 84.7,432.89 85.2,432.89 85.7,432.88 86.2,432.88 86.7,432.88 87.2,432.88 87.7,432.88 88.2,432.88 88.7,432.87 89.2,432.87 89.7,432.87 90.2,432.87 90.7,432.87 91.2,432.87 91.7,432.86 92.2,432.86 92.7,432.86 93.2,432.86 93.7,432.86 94.2,432.85 94.7,432.85 95.2,432.85 95.6,432.85 96.1,432.85 96.6,432.84 97.1,432.84 97.6,432.84 98.1,432.84 98.6,432.83 99.1,432.83 99.6,432.83 100.1,432.83 100.6,432.82 101.1,432.82 101.6,432.82 102.1,432.81 102.6,432.81 103.1,432.81 103.6,432.80 104.1,432.80 104.6,432.80 105.1,432.79 105.6,432.79 106.1,432.79 106.6,432.78 107.1,432.78 107.6,432.78 108.1,432.77 108.6,432.77 109.1,432.76 109.6,432.76 110.1,432.75 110.6,432.75 111.1,432.74 111.5,432.74 112.0,432.73 112.5,432.73 113.0,432.72 113.5,432.72 114.0,432.71 114.5,432.71 115.0,432.70 115.5,432.69 116.0,432.69 116.5,432.68 117.0,432.67 117.5,432.67 118.0,432.66 118.5,432.65 119.0,432.64 119.5,432.64 120.0,432.63 120.5,432.62 121.0,432.61 121.5,432.60 122.0,432.59 122.5,432.58 123.0,432.57 123.5,432.56 124.0,432.55 124.5,432.54 125.0,432.53 125.5,432.51 126.0,432.50 126.5,432.49 127.0,432.47 127.5,432.46 127.9,432.44 128.4,432.43 128.9,432.41 129.4,432.39 129.9,432.38 130.4,432.36 130.9,432.34 131.4,432.32 131.9,432.30 132.4,432.27 132.9,432.25 133.4,432.23 133.9,432.20 134.4,432.17 134.9,432.14 135.4,432.11 135.9,432.08 136.4,432.05 136.9,432.01 137.4,431.98 137.9,431.94 138.4,431.90 138.9,431.85 139.4,431.81 139.9,431.76 140.4,431.71 140.9,431.65 141.4,431.59 141.9,431.53 142.4,431.46 142.9,431.39 143.4,431.31 143.9,431.23 144.3,431.14 144.8,431.05 145.3,430.94 145.8,430.83 146.3,430.71 146.8,430.58 147.3,430.44 147.8,430.29 148.3,430.13 148.8,429.95 149.3,429.75 149.8,429.53 150.3,429.30 150.8,429.03 151.3,428.74 151.8,428.42 152.3,428.07 152.8,427.67 153.3,427.23 153.8,426.73 154.3,426.16 154.8,425.53 155.3,424.80 155.8,423.98 156.3,423.03 156.8,421.94 157.3,420.68 157.8,419.21 158.3,417.50 158.8,415.48 159.3,413.10 159.8,410.28 160.3,406.91 160.7,402.90 161.2,398.09 161.7,392.34 162.2,385.50 162.7,377.44 163.2,368.13 163.7,357.71 164.2,346.64 164.7,335.85 165.2,326.79 165.7,321.25 166.2,320.80 166.7,326.12 167.2,336.49 167.7,350.10 168.2,364.75 168.7,378.69 169.2,390.86 169.7,400.90 170.2,408.87 170.7,415.05 171.2,419.77 171.7,423.35 172.2,426.05 172.7,428.08 173.2,429.62 173.7,430.77 174.2,431.65 174.7,432.31 175.2,432.81 175.7,433.19 176.2,433.47 176.7,433.68 177.1,433.84 177.6,433.95 178.1,434.03 178.6,434.08 179.1,434.12 179.6,434.14 180.1,434.15 180.6,434.15 181.1,434.14 181.6,434.13 182.1,434.11 182.6,434.09 183.1,434.07 183.6,434.05 184.1,434.02 184.6,434.00 185.1,433.97 185.6,433.95 186.1,433.92 186.6,433.90 187.1,433.87 187.6,433.85 188.1,433.83 188.6,433.80 189.1,433.78 189.6,433.76 190.1,433.74 190.6,433.72 191.1,433.70 191.6,433.68 192.1,433.66 192.6,433.64 193.1,433.63 193.5,433.61 194.0,433.59 194.5,433.58 195.0,433.56 195.5,433.55 196.0,433.54 196.5,433.52 197.0,433.51 197.5,433.50 198.0,433.48 198.5,433.47 199.0,433.46 199.5,433.45 200.0,433.44 200.5,433.43 201.0,433.42 201.5,433.41 202.0,433.40 202.5,433.39 203.0,433.38 203.5,433.37 204.0,433.37 204.5,433.36 205.0,433.35 205.5,433.34 206.0,433.34 206.5,433.33 207.0,433.32 207.5,433.32 208.0,433.31 208.5,433.30 209.0,433.30 209.5,433.29 209.9,433.29 210.4,433.28 210.9,433.27 211.4,433.27 211.9,433.26 212.4,433.26 212.9,433.25 213.4,433.25 213.9,433.24 214.4,433.24 214.9,433.24 215.4,433.23 215.9,433.23 216.4,433.22 216.9,433.22 217.4,433.22 217.9,433.21 218.4,433.21 218.9,433.21 219.4,433.20 219.9,433.20 220.4,433.20 220.9,433.19 221.4,433.19 221.9,433.19 222.4,433.18 222.9,433.18 223.4,433.18 223.9,433.17 224.4,433.17 224.9,433.17 225.4,433.17 225.8,433.16 226.3,433.16 226.8,433.16 227.3,433.16 227.8,433.15 228.3,433.15 228.8,433.15 229.3,433.15 229.8,433.15 230.3,433.14 230.8,433.14 231.3,433.14 231.8,433.14 232.3,433.14 232.8,433.13 233.3,433.13 233.8,433.13 234.3,433.13 234.8,433.13 235.3,433.13 235.8,433.12 236.3,433.12 236.8,433.12 237.3,433.12 237.8,433.12 238.3,433.12 238.8,433.11 239.3,433.11 239.8,433.11 240.3,433.11 240.8,433.11 241.3,433.11 241.8,433.11 242.2,433.10 242.7,433.10 243.2,433.10 243.7,433.10 244.2,433.10 244.7,433.10 245.2,433.10 245.7,433.10 246.2,433.10 246.7,433.09 247.2,433.09 247.7,433.09 248.2,433.09 248.7,433.09 249.2,433.09 249.7,433.09 250.2,433.09 250.7,433.09 251.2,433.09 251.7,433.08 252.2,433.08 252.7,433.08 253.2,433.08 253.7,433.08 254.2,433.08 254.7,433.08 255.2,433.08 255.7,433.08 256.2,433.08 256.7,433.08 257.2,433.07 257.7,433.07 258.2,433.07 258.6,433.07 259.1,433.07 259.6,433.07 260.1,433.07 260.6,433.07 261.1,433.07 261.6,433.07 262.1,433.07 262.6,433.07 263.1,433.07 263.6,433.07 264.1,433.07 264.6,433.06 265.1,433.06 265.6,433.06 266.1,433.06 266.6,433.06 267.1,433.06 267.6,433.06 268.1,433.06 268.6,433.06 269.1,433.06 269.6,433.06 270.1,433.06 270.6,433.06 271.1,433.06 271.6,433.06 272.1,433.06 272.6,433.06 273.1,433.06 273.6,433.05 274.1,433.05 274.6,433.05 275.0,433.05 275.5,433.05 276.0,433.05 276.5,433.05 277.0,433.05 277.5,433.05 278.0,433.05 278.5,433.05 279.0,433.05 279.5,433.05 280.0,433.05 280.5,433.05 281.0,433.05 281.5,433.05 282.0,433.05 282.5,433.05 283.0,433.05" fill="none" stroke="#111" stroke-width="1.5" stroke-linejoin="round"/>
<rect x="54.40" y="315.60" width="228.60" height="120.80" fill="none" stroke="#8e8e8e" stroke-width="1.35"/>
<line x1="54.40" y1="436.40" x2="54.40" y2="434.20" stroke="#262626" stroke-width="0.5" />
<line x1="54.40" y1="315.60" x2="54.40" y2="317.80" stroke="#262626" stroke-width="0.5" />
<line x1="112.50" y1="436.40" x2="112.50" y2="434.20" stroke="#262626" stroke-width="0.5" />
<line x1="112.50" y1="315.60" x2="112.50" y2="317.80" stroke="#262626" stroke-width="0.5" />
<line x1="170.50" y1="436.40" x2="170.50" y2="434.20" stroke="#262626" stroke-width="0.5" />
<line x1="170.50" y1="315.60" x2="170.50" y2="317.80" stroke="#262626" stroke-width="0.5" />
<line x1="226.60" y1="436.40" x2="226.60" y2="434.20" stroke="#262626" stroke-width="0.5" />
<line x1="226.60" y1="315.60" x2="226.60" y2="317.80" stroke="#262626" stroke-width="0.5" />
<line x1="283.00" y1="436.40" x2="283.00" y2="434.20" stroke="#262626" stroke-width="0.5" />
<line x1="283.00" y1="315.60" x2="283.00" y2="317.80" stroke="#262626" stroke-width="0.5" />
<line x1="54.40" y1="433.00" x2="56.60" y2="433.00" stroke="#262626" stroke-width="0.5" />
<line x1="283.00" y1="433.00" x2="280.80" y2="433.00" stroke="#262626" stroke-width="0.5" />
<text transform="translate(50.80 438.10) scale(1.03 1.14)" font-family="Liberation Serif, serif" font-size="11.5" font-style="italic" text-anchor="end" fill="#3a3a3a">0</text>
<line x1="54.40" y1="409.52" x2="56.60" y2="409.52" stroke="#262626" stroke-width="0.5" />
<line x1="283.00" y1="409.52" x2="280.80" y2="409.52" stroke="#262626" stroke-width="0.5" />
<text transform="translate(50.80 414.62) scale(1.03 1.14)" font-family="Liberation Serif, serif" font-size="11.5" font-style="italic" text-anchor="end" fill="#3a3a3a">1</text>
<line x1="54.40" y1="386.04" x2="56.60" y2="386.04" stroke="#262626" stroke-width="0.5" />
<line x1="283.00" y1="386.04" x2="280.80" y2="386.04" stroke="#262626" stroke-width="0.5" />
<text transform="translate(50.80 391.14) scale(1.03 1.14)" font-family="Liberation Serif, serif" font-size="11.5" font-style="italic" text-anchor="end" fill="#3a3a3a">2</text>
<line x1="54.40" y1="362.56" x2="56.60" y2="362.56" stroke="#262626" stroke-width="0.5" />
<line x1="283.00" y1="362.56" x2="280.80" y2="362.56" stroke="#262626" stroke-width="0.5" />
<text transform="translate(50.80 367.66) scale(1.03 1.14)" font-family="Liberation Serif, serif" font-size="11.5" font-style="italic" text-anchor="end" fill="#3a3a3a">3</text>
<line x1="54.40" y1="339.08" x2="56.60" y2="339.08" stroke="#262626" stroke-width="0.5" />
<line x1="283.00" y1="339.08" x2="280.80" y2="339.08" stroke="#262626" stroke-width="0.5" />
<text transform="translate(50.80 344.18) scale(1.03 1.14)" font-family="Liberation Serif, serif" font-size="11.5" font-style="italic" text-anchor="end" fill="#3a3a3a">4</text>
<line x1="54.40" y1="315.60" x2="56.60" y2="315.60" stroke="#262626" stroke-width="0.5" />
<line x1="283.00" y1="315.60" x2="280.80" y2="315.60" stroke="#262626" stroke-width="0.5" />
<text transform="translate(50.80 320.70) scale(1.03 1.14)" font-family="Liberation Serif, serif" font-size="11.5" font-style="italic" text-anchor="end" fill="#3a3a3a">5</text>
<text font-family="Liberation Sans, sans-serif" font-size="11.5" text-anchor="middle" fill="#262626" stroke="#262626" stroke-width="0.2" transform="translate(33.70 380.80) rotate(-90)" >LOS deformation [cm]</text>
<text x="55.20" y="311.00" font-family="Liberation Sans, sans-serif" font-size="11" text-anchor="start" fill="#262626" stroke="#262626" stroke-width="0.2" >A</text>
<text x="277.90" y="311.00" font-family="Liberation Sans, sans-serif" font-size="11" text-anchor="start" fill="#262626" stroke="#262626" stroke-width="0.2" >A'</text>
<text transform="translate(1.7 300.4) scale(0.96 1.0)" font-family="Liberation Sans, sans-serif" font-size="12.2" font-weight="bold" fill="#000">(c)</text>
<rect x="419.4" y="314.4" width="229.80" height="121.80" fill="#fff"/>
<line x1="477.50" y1="314.40" x2="477.50" y2="436.20" stroke="#E8E8E8" stroke-width="1.0" />
<line x1="535.50" y1="314.40" x2="535.50" y2="436.20" stroke="#E8E8E8" stroke-width="1.0" />
<line x1="592.50" y1="314.40" x2="592.50" y2="436.20" stroke="#E8E8E8" stroke-width="1.0" />
<line x1="419.40" y1="432.50" x2="649.20" y2="432.50" stroke="#E8E8E8" stroke-width="1.0" />
<line x1="419.40" y1="409.50" x2="649.20" y2="409.50" stroke="#E8E8E8" stroke-width="1.0" />
<line x1="419.40" y1="385.50" x2="649.20" y2="385.50" stroke="#E8E8E8" stroke-width="1.0" />
<line x1="419.40" y1="361.50" x2="649.20" y2="361.50" stroke="#E8E8E8" stroke-width="1.0" />
<line x1="419.40" y1="338.50" x2="649.20" y2="338.50" stroke="#E8E8E8" stroke-width="1.0" />
<polyline points="419.4,432.95 419.9,432.95 420.4,432.95 420.9,432.95 421.4,432.95 421.9,432.95 422.4,432.95 422.9,432.95 423.4,432.95 423.9,432.95 424.4,432.96 424.9,432.96 425.4,432.96 425.9,432.96 426.4,432.96 426.9,432.96 427.4,432.96 427.9,432.96 428.4,432.96 428.9,432.96 429.4,432.96 429.9,432.96 430.4,432.96 430.9,432.96 431.4,432.96 431.9,432.96 432.4,432.96 432.9,432.96 433.4,432.96 433.9,432.97 434.4,432.97 434.9,432.97 435.4,432.97 435.9,432.97 436.4,432.97 436.9,432.97 437.4,432.97 437.9,432.97 438.4,432.97 438.9,432.97 439.4,432.97 439.9,432.97 440.4,432.97 440.9,432.98 441.4,432.98 441.9,432.98 442.4,432.98 442.9,432.98 443.4,432.98 443.9,432.98 444.4,432.98 444.9,432.98 445.4,432.98 445.9,432.98 446.4,432.98 446.9,432.99 447.4,432.99 447.9,432.99 448.4,432.99 448.9,432.99 449.4,432.99 449.9,432.99 450.4,432.99 450.9,432.99 451.4,432.99 451.9,433.00 452.4,433.00 452.9,433.00 453.4,433.00 453.9,433.00 454.4,433.00 454.9,433.00 455.4,433.00 455.9,433.01 456.4,433.01 456.9,433.01 457.4,433.01 457.9,433.01 458.4,433.01 458.9,433.01 459.4,433.02 459.9,433.02 460.4,433.02 460.9,433.02 461.4,433.02 461.9,433.02 462.4,433.02 462.9,433.03 463.4,433.03 463.9,433.03 464.4,433.03 464.9,433.03 465.4,433.04 465.9,433.04 466.4,433.04 466.9,433.04 467.4,433.04 467.9,433.04 468.4,433.05 468.9,433.05 469.4,433.05 469.9,433.05 470.4,433.06 470.9,433.06 471.4,433.06 471.9,433.06 472.4,433.07 472.9,433.07 473.4,433.07 473.9,433.07 474.4,433.08 474.9,433.08 475.4,433.08 475.9,433.08 476.4,433.09 476.9,433.09 477.3,433.09 477.8,433.10 478.3,433.10 478.8,433.10 479.3,433.11 479.8,433.11 480.3,433.11 480.8,433.12 481.3,433.12 481.8,433.13 482.3,433.13 482.8,433.13 483.3,433.14 483.8,433.14 484.3,433.15 484.8,433.15 485.3,433.16 485.8,433.16 486.3,433.17 486.8,433.17 487.3,433.18 487.8,433.18 488.3,433.19 488.8,433.19 489.3,433.20 489.8,433.20 490.3,433.21 490.8,433.22 491.3,433.22 491.8,433.23 492.3,433.24 492.8,433.25 493.3,433.25 493.8,433.26 494.3,433.27 494.8,433.28 495.3,433.28 495.8,433.29 496.3,433.30 496.8,433.31 497.3,433.32 497.8,433.33 498.3,433.34 498.8,433.35 499.3,433.36 499.8,433.38 500.3,433.39 500.8,433.40 501.3,433.41 501.8,433.42 502.3,433.44 502.8,433.45 503.3,433.47 503.8,433.48 504.3,433.50 504.8,433.51 505.3,433.53 505.8,433.55 506.3,433.57 506.8,433.58 507.3,433.60 507.8,433.62 508.3,433.64 508.8,433.66 509.3,433.69 509.8,433.71 510.3,433.73 510.8,433.75 511.3,433.78 511.8,433.80 512.3,433.83 512.8,433.85 513.3,433.88 513.8,433.90 514.3,433.93 514.8,433.95 515.3,433.98 515.8,434.00 516.3,434.02 516.8,434.04 517.3,434.05 517.8,434.06 518.3,434.06 518.8,434.05 519.3,434.03 519.8,434.00 520.3,433.95 520.8,433.87 521.3,433.76 521.8,433.62 522.3,433.41 522.8,433.14 523.3,432.78 523.8,432.30 524.3,431.66 524.8,430.82 525.3,429.70 525.8,428.22 526.3,426.26 526.8,423.66 527.3,420.21 527.8,415.66 528.3,409.68 528.8,401.96 529.3,392.18 529.8,380.23 530.3,366.41 530.8,351.63 531.3,337.57 531.8,326.42 532.3,320.13 532.8,319.64 533.3,324.49 533.8,333.18 534.3,343.89 534.8,355.09 535.3,365.76 535.8,375.36 536.3,383.70 536.8,390.80 537.3,396.78 537.8,401.78 538.3,405.95 538.8,409.45 539.3,412.38 539.8,414.85 540.3,416.94 540.8,418.72 541.3,420.24 541.8,421.54 542.3,422.67 542.8,423.65 543.3,424.50 543.8,425.24 544.3,425.90 544.8,426.48 545.3,426.99 545.8,427.45 546.3,427.86 546.8,428.23 547.3,428.55 547.8,428.85 548.3,429.12 548.8,429.36 549.3,429.59 549.8,429.79 550.3,429.97 550.8,430.14 551.3,430.30 551.8,430.44 552.3,430.57 552.8,430.69 553.3,430.81 553.8,430.91 554.3,431.01 554.8,431.10 555.3,431.18 555.8,431.26 556.3,431.33 556.8,431.40 557.3,431.47 557.8,431.53 558.3,431.58 558.8,431.64 559.3,431.69 559.8,431.73 560.3,431.78 560.8,431.82 561.3,431.86 561.8,431.90 562.3,431.93 562.8,431.97 563.3,432.00 563.8,432.03 564.3,432.06 564.8,432.09 565.3,432.11 565.8,432.14 566.3,432.16 566.8,432.19 567.3,432.21 567.8,432.23 568.3,432.25 568.8,432.27 569.3,432.29 569.8,432.30 570.3,432.32 570.8,432.34 571.3,432.35 571.8,432.37 572.3,432.38 572.8,432.39 573.3,432.41 573.8,432.42 574.3,432.43 574.8,432.44 575.3,432.45 575.8,432.47 576.3,432.48 576.8,432.49 577.3,432.50 577.8,432.51 578.3,432.51 578.8,432.52 579.3,432.53 579.8,432.54 580.3,432.55 580.8,432.56 581.3,432.56 581.8,432.57 582.3,432.58 582.8,432.58 583.3,432.59 583.8,432.60 584.3,432.60 584.8,432.61 585.3,432.61 585.8,432.62 586.3,432.63 586.8,432.63 587.3,432.64 587.8,432.64 588.3,432.65 588.8,432.65 589.3,432.66 589.8,432.66 590.3,432.66 590.8,432.67 591.3,432.67 591.8,432.68 592.2,432.68 592.7,432.68 593.2,432.69 593.7,432.69 594.2,432.70 594.7,432.70 595.2,432.70 595.7,432.71 596.2,432.71 596.7,432.71 597.2,432.71 597.7,432.72 598.2,432.72 598.7,432.72 599.2,432.73 599.7,432.73 600.2,432.73 600.7,432.73 601.2,432.74 601.7,432.74 602.2,432.74 602.7,432.74 603.2,432.75 603.7,432.75 604.2,432.75 604.7,432.75 605.2,432.75 605.7,432.76 606.2,432.76 606.7,432.76 607.2,432.76 607.7,432.76 608.2,432.77 608.7,432.77 609.2,432.77 609.7,432.77 610.2,432.77 610.7,432.78 611.2,432.78 611.7,432.78 612.2,432.78 612.7,432.78 613.2,432.78 613.7,432.78 614.2,432.79 614.7,432.79 615.2,432.79 615.7,432.79 616.2,432.79 616.7,432.79 617.2,432.79 617.7,432.80 618.2,432.80 618.7,432.80 619.2,432.80 619.7,432.80 620.2,432.80 620.7,432.80 621.2,432.80 621.7,432.80 622.2,432.81 622.7,432.81 623.2,432.81 623.7,432.81 624.2,432.81 624.7,432.81 625.2,432.81 625.7,432.81 626.2,432.81 626.7,432.82 627.2,432.82 627.7,432.82 628.2,432.82 628.7,432.82 629.2,432.82 629.7,432.82 630.2,432.82 630.7,432.82 631.2,432.82 631.7,432.82 632.2,432.82 632.7,432.83 633.2,432.83 633.7,432.83 634.2,432.83 634.7,432.83 635.2,432.83 635.7,432.83 636.2,432.83 636.7,432.83 637.2,432.83 637.7,432.83 638.2,432.83 638.7,432.83 639.2,432.83 639.7,432.84 640.2,432.84 640.7,432.84 641.2,432.84 641.7,432.84 642.2,432.84 642.7,432.84 643.2,432.84 643.7,432.84 644.2,432.84 644.7,432.84 645.2,432.84 645.7,432.84 646.2,432.84 646.7,432.84 647.2,432.84 647.7,432.84 648.2,432.84 648.7,432.84 649.2,432.85" fill="none" stroke="#111" stroke-width="1.5" stroke-linejoin="round"/>
<rect x="419.40" y="314.40" width="229.80" height="121.80" fill="none" stroke="#8e8e8e" stroke-width="1.35"/>
<line x1="419.40" y1="436.20" x2="419.40" y2="434.00" stroke="#262626" stroke-width="0.5" />
<line x1="419.40" y1="314.40" x2="419.40" y2="316.60" stroke="#262626" stroke-width="0.5" />
<line x1="477.60" y1="436.20" x2="477.60" y2="434.00" stroke="#262626" stroke-width="0.5" />
<line x1="477.60" y1="314.40" x2="477.60" y2="316.60" stroke="#262626" stroke-width="0.5" />
<line x1="535.80" y1="436.20" x2="535.80" y2="434.00" stroke="#262626" stroke-width="0.5" />
<line x1="535.80" y1="314.40" x2="535.80" y2="316.60" stroke="#262626" stroke-width="0.5" />
<line x1="592.60" y1="436.20" x2="592.60" y2="434.00" stroke="#262626" stroke-width="0.5" />
<line x1="592.60" y1="314.40" x2="592.60" y2="316.60" stroke="#262626" stroke-width="0.5" />
<line x1="649.20" y1="436.20" x2="649.20" y2="434.00" stroke="#262626" stroke-width="0.5" />
<line x1="649.20" y1="314.40" x2="649.20" y2="316.60" stroke="#262626" stroke-width="0.5" />
<line x1="419.40" y1="432.90" x2="421.60" y2="432.90" stroke="#262626" stroke-width="0.5" />
<line x1="649.20" y1="432.90" x2="647.00" y2="432.90" stroke="#262626" stroke-width="0.5" />
<text transform="translate(415.00 438.00) scale(1.03 1.14)" font-family="Liberation Serif, serif" font-size="11.5" font-style="italic" text-anchor="end" fill="#3a3a3a">0</text>
<line x1="419.40" y1="409.20" x2="421.60" y2="409.20" stroke="#262626" stroke-width="0.5" />
<line x1="649.20" y1="409.20" x2="647.00" y2="409.20" stroke="#262626" stroke-width="0.5" />
<text transform="translate(415.00 414.30) scale(1.03 1.14)" font-family="Liberation Serif, serif" font-size="11.5" font-style="italic" text-anchor="end" fill="#3a3a3a">1</text>
<line x1="419.40" y1="385.50" x2="421.60" y2="385.50" stroke="#262626" stroke-width="0.5" />
<line x1="649.20" y1="385.50" x2="647.00" y2="385.50" stroke="#262626" stroke-width="0.5" />
<text transform="translate(415.00 390.60) scale(1.03 1.14)" font-family="Liberation Serif, serif" font-size="11.5" font-style="italic" text-anchor="end" fill="#3a3a3a">2</text>
<line x1="419.40" y1="361.80" x2="421.60" y2="361.80" stroke="#262626" stroke-width="0.5" />
<line x1="649.20" y1="361.80" x2="647.00" y2="361.80" stroke="#262626" stroke-width="0.5" />
<text transform="translate(415.00 366.90) scale(1.03 1.14)" font-family="Liberation Serif, serif" font-size="11.5" font-style="italic" text-anchor="end" fill="#3a3a3a">3</text>
<line x1="419.40" y1="338.10" x2="421.60" y2="338.10" stroke="#262626" stroke-width="0.5" />
<line x1="649.20" y1="338.10" x2="647.00" y2="338.10" stroke="#262626" stroke-width="0.5" />
<text transform="translate(415.00 343.20) scale(1.03 1.14)" font-family="Liberation Serif, serif" font-size="11.5" font-style="italic" text-anchor="end" fill="#3a3a3a">4</text>
<line x1="419.40" y1="314.40" x2="421.60" y2="314.40" stroke="#262626" stroke-width="0.5" />
<line x1="649.20" y1="314.40" x2="647.00" y2="314.40" stroke="#262626" stroke-width="0.5" />
<text transform="translate(415.00 319.50) scale(1.03 1.14)" font-family="Liberation Serif, serif" font-size="11.5" font-style="italic" text-anchor="end" fill="#3a3a3a">5</text>
<text font-family="Liberation Sans, sans-serif" font-size="11.5" text-anchor="middle" fill="#262626" stroke="#262626" stroke-width="0.2" transform="translate(395.80 379.50) rotate(-90)" >LOS deformation [cm]</text>
<text x="417.20" y="309.80" font-family="Liberation Sans, sans-serif" font-size="11" text-anchor="start" fill="#262626" stroke="#262626" stroke-width="0.2" >A</text>
<text x="639.60" y="309.80" font-family="Liberation Sans, sans-serif" font-size="11" text-anchor="start" fill="#262626" stroke="#262626" stroke-width="0.2" >A'</text>
<text transform="translate(364.2 299.4) scale(0.965 1.0)" font-family="Liberation Sans, sans-serif" font-size="12.2" font-weight="bold" fill="#000">(d)</text>
<rect x="54.40" y="455.70" width="228.60" height="160.70" fill="none" stroke="#8e8e8e" stroke-width="1.35"/>
<rect x="53.60" y="455.20" width="230.20" height="82.40" fill="#000"/>
<line x1="112.50" y1="455.70" x2="112.50" y2="537.60" stroke="#151515" stroke-width="0.8" />
<line x1="170.50" y1="455.70" x2="170.50" y2="537.60" stroke="#151515" stroke-width="0.8" />
<line x1="226.60" y1="455.70" x2="226.60" y2="537.60" stroke="#151515" stroke-width="0.8" />
<line x1="54.40" y1="483.00" x2="283.00" y2="483.00" stroke="#151515" stroke-width="0.8" />
<line x1="54.40" y1="510.30" x2="283.00" y2="510.30" stroke="#151515" stroke-width="0.8" />
<defs><linearGradient id="ghe0" x1="0" y1="0" x2="1" y2="0"><stop offset="0.0000" stop-color="#fff" stop-opacity="0"/><stop offset="0.1818" stop-color="#fff" stop-opacity="0.07"/><stop offset="0.3636" stop-color="#fff" stop-opacity="0.12"/><stop offset="0.6364" stop-color="#fff" stop-opacity="0.12"/><stop offset="0.8182" stop-color="#fff" stop-opacity="0.07"/><stop offset="1.0000" stop-color="#fff" stop-opacity="0"/></linearGradient><linearGradient id="gve0" x1="0" y1="0" x2="0" y2="1"><stop offset="0" stop-color="#fff" stop-opacity="1"/><stop offset="1" stop-color="#fff" stop-opacity="1"/></linearGradient><mask id="gme0" maskUnits="userSpaceOnUse" x="153.00" y="455.7" width="22.00" height="81.90"><rect x="153.00" y="455.7" width="22.00" height="81.90" fill="url(#gve0)"/></mask></defs>
<rect x="153.00" y="455.7" width="22.00" height="81.90" fill="url(#ghe0)" mask="url(#gme0)"/>
<defs><linearGradient id="ghe1" x1="0" y1="0" x2="1" y2="0"><stop offset="0.0000" stop-color="#fff" stop-opacity="0"/><stop offset="0.1875" stop-color="#fff" stop-opacity="0.12"/><stop offset="0.3125" stop-color="#fff" stop-opacity="0.28"/><stop offset="0.4062" stop-color="#fff" stop-opacity="0.4"/><stop offset="0.5938" stop-color="#fff" stop-opacity="0.4"/><stop offset="0.6875" stop-color="#fff" stop-opacity="0.22"/><stop offset="0.8125" stop-color="#fff" stop-opacity="0.12"/><stop offset="1.0000" stop-color="#fff" stop-opacity="0"/></linearGradient><linearGradient id="gve1" x1="0" y1="0" x2="0" y2="1"><stop offset="0" stop-color="#fff" stop-opacity="0"/><stop offset="0.3" stop-color="#fff" stop-opacity="0.15"/><stop offset="0.6" stop-color="#fff" stop-opacity="0.5"/><stop offset="1" stop-color="#fff" stop-opacity="1"/></linearGradient><mask id="gme1" maskUnits="userSpaceOnUse" x="156.00" y="455.7" width="16.00" height="81.90"><rect x="156.00" y="455.7" width="16.00" height="81.90" fill="url(#gve1)"/></mask></defs>
<rect x="156.00" y="455.7" width="16.00" height="81.90" fill="url(#ghe1)" mask="url(#gme1)"/>
<defs><linearGradient id="ghe2" x1="0" y1="0" x2="1" y2="0"><stop offset="0.0000" stop-color="#fff" stop-opacity="0"/><stop offset="0.1562" stop-color="#fff" stop-opacity="0.3"/><stop offset="0.2969" stop-color="#fff" stop-opacity="0.75"/><stop offset="0.4062" stop-color="#fff" stop-opacity="1"/><stop offset="0.5938" stop-color="#fff" stop-opacity="1"/><stop offset="0.7031" stop-color="#fff" stop-opacity="0.75"/><stop offset="0.8438" stop-color="#fff" stop-opacity="0.3"/><stop offset="1.0000" stop-color="#fff" stop-opacity="0"/></linearGradient><linearGradient id="gve2" x1="0" y1="0" x2="0" y2="1"><stop offset="0" stop-color="#fff" stop-opacity="0"/><stop offset="0.22" stop-color="#fff" stop-opacity="0"/><stop offset="0.36" stop-color="#fff" stop-opacity="0.08"/><stop offset="0.49" stop-color="#fff" stop-opacity="0.28"/><stop offset="0.62" stop-color="#fff" stop-opacity="0.5"/><stop offset="0.75" stop-color="#fff" stop-opacity="0.7"/><stop offset="0.88" stop-color="#fff" stop-opacity="0.88"/><stop offset="1" stop-color="#fff" stop-opacity="1"/></linearGradient><mask id="gme2" maskUnits="userSpaceOnUse" x="160.50" y="455.7" width="6.40" height="81.90"><rect x="160.50" y="455.7" width="6.40" height="81.90" fill="url(#gve2)"/></mask></defs>
<rect x="160.50" y="455.7" width="6.40" height="81.90" fill="url(#ghe2)" mask="url(#gme2)"/>
<line x1="112.50" y1="537.60" x2="112.50" y2="616.40" stroke="#E8E8E8" stroke-width="1.0" />
<line x1="170.50" y1="537.60" x2="170.50" y2="616.40" stroke="#E8E8E8" stroke-width="1.0" />
<line x1="226.50" y1="537.60" x2="226.50" y2="616.40" stroke="#E8E8E8" stroke-width="1.0" />
<line x1="54.40" y1="563.50" x2="283.00" y2="563.50" stroke="#E8E8E8" stroke-width="1.0" />
<line x1="166.40" y1="537.60" x2="166.40" y2="616.40" stroke="#D8D8D8" stroke-width="0.6" />
<line x1="54.40" y1="590.35" x2="283.00" y2="590.35" stroke="#808080" stroke-width="1.0" />
<circle cx="145.90" cy="457.20" r="1.15" fill="#ECB400"/>
<circle cx="146.30" cy="459.85" r="1.15" fill="#ECB400"/>
<circle cx="146.69" cy="462.50" r="1.15" fill="#ECB400"/>
<circle cx="147.09" cy="465.15" r="1.15" fill="#ECB400"/>
<circle cx="147.49" cy="467.80" r="1.15" fill="#ECB400"/>
<circle cx="147.88" cy="470.45" r="1.15" fill="#ECB400"/>
<circle cx="148.28" cy="473.10" r="1.15" fill="#ECB400"/>
<circle cx="148.68" cy="475.75" r="1.15" fill="#ECB400"/>
<circle cx="149.07" cy="478.40" r="1.15" fill="#ECB400"/>
<circle cx="149.47" cy="481.05" r="1.15" fill="#ECB400"/>
<circle cx="149.87" cy="483.70" r="1.15" fill="#ECB400"/>
<circle cx="150.26" cy="486.35" r="1.15" fill="#ECB400"/>
<circle cx="150.66" cy="489.00" r="1.15" fill="#ECB400"/>
<circle cx="151.06" cy="491.65" r="1.15" fill="#ECB400"/>
<circle cx="151.45" cy="494.30" r="1.15" fill="#ECB400"/>
<circle cx="151.85" cy="496.95" r="1.15" fill="#ECB400"/>
<circle cx="152.25" cy="499.60" r="1.15" fill="#ECB400"/>
<circle cx="152.64" cy="502.25" r="1.15" fill="#ECB400"/>
<circle cx="153.04" cy="504.90" r="1.15" fill="#ECB400"/>
<circle cx="153.44" cy="507.55" r="1.15" fill="#ECB400"/>
<circle cx="153.83" cy="510.20" r="1.15" fill="#ECB400"/>
<circle cx="154.23" cy="512.85" r="1.15" fill="#ECB400"/>
<circle cx="154.63" cy="515.50" r="1.15" fill="#ECB400"/>
<circle cx="155.02" cy="518.15" r="1.15" fill="#ECB400"/>
<circle cx="155.42" cy="520.80" r="1.15" fill="#ECB400"/>
<circle cx="155.82" cy="523.45" r="1.15" fill="#ECB400"/>
<circle cx="156.21" cy="526.10" r="1.15" fill="#ECB400"/>
<circle cx="156.61" cy="528.75" r="1.15" fill="#ECB400"/>
<circle cx="157.01" cy="531.40" r="1.15" fill="#ECB400"/>
<circle cx="157.40" cy="534.05" r="1.15" fill="#ECB400"/>
<circle cx="157.80" cy="536.70" r="1.15" fill="#ECB400"/>
<circle cx="175.30" cy="457.20" r="1.15" fill="#ECB400"/>
<circle cx="175.14" cy="459.85" r="1.15" fill="#ECB400"/>
<circle cx="174.98" cy="462.50" r="1.15" fill="#ECB400"/>
<circle cx="174.82" cy="465.15" r="1.15" fill="#ECB400"/>
<circle cx="174.66" cy="467.80" r="1.15" fill="#ECB400"/>
<circle cx="174.50" cy="470.45" r="1.15" fill="#ECB400"/>
<circle cx="174.34" cy="473.10" r="1.15" fill="#ECB400"/>
<circle cx="174.18" cy="475.75" r="1.15" fill="#ECB400"/>
<circle cx="174.02" cy="478.40" r="1.15" fill="#ECB400"/>
<circle cx="173.86" cy="481.05" r="1.15" fill="#ECB400"/>
<circle cx="173.70" cy="483.70" r="1.15" fill="#ECB400"/>
<circle cx="173.54" cy="486.35" r="1.15" fill="#ECB400"/>
<circle cx="173.38" cy="489.00" r="1.15" fill="#ECB400"/>
<circle cx="173.22" cy="491.65" r="1.15" fill="#ECB400"/>
<circle cx="173.06" cy="494.30" r="1.15" fill="#ECB400"/>
<circle cx="172.90" cy="496.95" r="1.15" fill="#ECB400"/>
<circle cx="172.74" cy="499.60" r="1.15" fill="#ECB400"/>
<circle cx="172.58" cy="502.25" r="1.15" fill="#ECB400"/>
<circle cx="172.42" cy="504.90" r="1.15" fill="#ECB400"/>
<circle cx="172.26" cy="507.55" r="1.15" fill="#ECB400"/>
<circle cx="172.10" cy="510.20" r="1.15" fill="#ECB400"/>
<circle cx="171.94" cy="512.85" r="1.15" fill="#ECB400"/>
<circle cx="171.78" cy="515.50" r="1.15" fill="#ECB400"/>
<circle cx="171.62" cy="518.15" r="1.15" fill="#ECB400"/>
<circle cx="171.46" cy="520.80" r="1.15" fill="#ECB400"/>
<circle cx="171.30" cy="523.45" r="1.15" fill="#ECB400"/>
<circle cx="171.14" cy="526.10" r="1.15" fill="#ECB400"/>
<circle cx="170.98" cy="528.75" r="1.15" fill="#ECB400"/>
<circle cx="170.82" cy="531.40" r="1.15" fill="#ECB400"/>
<circle cx="170.66" cy="534.05" r="1.15" fill="#ECB400"/>
<circle cx="170.50" cy="536.70" r="1.15" fill="#ECB400"/>
<circle cx="202.70" cy="455.30" r="1.0" fill="#38D8E8"/>
<circle cx="201.97" cy="458.01" r="1.0" fill="#38D8E8"/>
<circle cx="201.25" cy="460.73" r="1.0" fill="#38D8E8"/>
<circle cx="200.52" cy="463.44" r="1.0" fill="#38D8E8"/>
<circle cx="199.79" cy="466.15" r="1.0" fill="#38D8E8"/>
<circle cx="199.07" cy="468.87" r="1.0" fill="#38D8E8"/>
<circle cx="198.34" cy="471.58" r="1.0" fill="#38D8E8"/>
<circle cx="197.61" cy="474.29" r="1.0" fill="#38D8E8"/>
<circle cx="196.89" cy="477.01" r="1.0" fill="#38D8E8"/>
<circle cx="196.16" cy="479.72" r="1.0" fill="#38D8E8"/>
<circle cx="195.43" cy="482.43" r="1.0" fill="#38D8E8"/>
<circle cx="194.71" cy="485.15" r="1.0" fill="#38D8E8"/>
<circle cx="193.98" cy="487.86" r="1.0" fill="#38D8E8"/>
<circle cx="193.25" cy="490.57" r="1.0" fill="#38D8E8"/>
<circle cx="192.53" cy="493.29" r="1.0" fill="#38D8E8"/>
<circle cx="191.80" cy="496.00" r="1.0" fill="#38D8E8"/>
<circle cx="191.07" cy="498.71" r="1.0" fill="#38D8E8"/>
<circle cx="190.35" cy="501.43" r="1.0" fill="#38D8E8"/>
<circle cx="189.62" cy="504.14" r="1.0" fill="#38D8E8"/>
<circle cx="188.89" cy="506.85" r="1.0" fill="#38D8E8"/>
<circle cx="188.17" cy="509.57" r="1.0" fill="#38D8E8"/>
<circle cx="187.44" cy="512.28" r="1.0" fill="#38D8E8"/>
<circle cx="186.71" cy="514.99" r="1.0" fill="#38D8E8"/>
<circle cx="185.99" cy="517.71" r="1.0" fill="#38D8E8"/>
<circle cx="185.26" cy="520.42" r="1.0" fill="#38D8E8"/>
<circle cx="184.53" cy="523.13" r="1.0" fill="#38D8E8"/>
<circle cx="183.81" cy="525.85" r="1.0" fill="#38D8E8"/>
<circle cx="183.08" cy="528.56" r="1.0" fill="#38D8E8"/>
<circle cx="182.35" cy="531.27" r="1.0" fill="#38D8E8"/>
<circle cx="181.63" cy="533.99" r="1.0" fill="#38D8E8"/>
<circle cx="180.90" cy="536.70" r="1.0" fill="#38D8E8"/>
<line x1="145.90" y1="457.20" x2="158.52" y2="537.60" stroke="#FF1818" stroke-width="0.65" />
<line x1="158.52" y1="537.60" x2="166.80" y2="590.35" stroke="#FF1818" stroke-width="1.0" />
<line x1="165.00" y1="455.30" x2="166.10" y2="537.60" stroke="#FF1818" stroke-width="0.65" />
<line x1="166.10" y1="537.60" x2="166.80" y2="590.35" stroke="#FF1818" stroke-width="1.0" />
<line x1="175.30" y1="457.20" x2="170.17" y2="537.60" stroke="#FF1818" stroke-width="0.65" />
<line x1="170.17" y1="537.60" x2="166.80" y2="590.35" stroke="#FF1818" stroke-width="1.0" />
<line x1="202.70" y1="455.30" x2="180.82" y2="537.60" stroke="#FF1818" stroke-width="0.65" />
<line x1="180.82" y1="537.60" x2="166.80" y2="590.35" stroke="#FF1818" stroke-width="1.0" />
<circle cx="165.40" cy="455.30" r="0.55" fill="#38D8E8"/>
<circle cx="165.45" cy="458.01" r="0.55" fill="#38D8E8"/>
<circle cx="165.50" cy="460.73" r="0.55" fill="#38D8E8"/>
<circle cx="165.55" cy="463.44" r="0.55" fill="#38D8E8"/>
<circle cx="165.60" cy="466.15" r="0.55" fill="#38D8E8"/>
<circle cx="165.65" cy="468.87" r="0.55" fill="#38D8E8"/>
<circle cx="165.70" cy="471.58" r="0.55" fill="#38D8E8"/>
<circle cx="165.75" cy="474.29" r="0.55" fill="#38D8E8"/>
<circle cx="165.80" cy="477.01" r="0.55" fill="#38D8E8"/>
<circle cx="165.85" cy="479.72" r="0.55" fill="#38D8E8"/>
<circle cx="165.90" cy="482.43" r="0.55" fill="#38D8E8"/>
<circle cx="165.95" cy="485.15" r="0.55" fill="#38D8E8"/>
<circle cx="166.00" cy="487.86" r="0.55" fill="#38D8E8"/>
<circle cx="166.05" cy="490.57" r="0.55" fill="#38D8E8"/>
<circle cx="166.10" cy="493.29" r="0.55" fill="#38D8E8"/>
<circle cx="166.15" cy="496.00" r="0.55" fill="#38D8E8"/>
<circle cx="166.20" cy="498.71" r="0.55" fill="#38D8E8"/>
<circle cx="166.25" cy="501.43" r="0.55" fill="#38D8E8"/>
<circle cx="166.30" cy="504.14" r="0.55" fill="#38D8E8"/>
<circle cx="166.35" cy="506.85" r="0.55" fill="#38D8E8"/>
<circle cx="166.40" cy="509.57" r="0.55" fill="#38D8E8"/>
<circle cx="166.45" cy="512.28" r="0.55" fill="#38D8E8"/>
<circle cx="166.50" cy="514.99" r="0.55" fill="#38D8E8"/>
<circle cx="166.55" cy="517.71" r="0.55" fill="#38D8E8"/>
<circle cx="166.60" cy="520.42" r="0.55" fill="#38D8E8"/>
<circle cx="166.65" cy="523.13" r="0.55" fill="#38D8E8"/>
<circle cx="166.70" cy="525.85" r="0.55" fill="#38D8E8"/>
<circle cx="166.75" cy="528.56" r="0.55" fill="#38D8E8"/>
<circle cx="166.80" cy="531.27" r="0.55" fill="#38D8E8"/>
<circle cx="166.85" cy="533.99" r="0.55" fill="#38D8E8"/>
<circle cx="166.90" cy="536.70" r="0.55" fill="#38D8E8"/>
<text font-family="Liberation Sans, sans-serif" font-size="7.7" text-anchor="middle" fill="#FF0000" font-weight="bold" transform="translate(145.20 476.30) rotate(-98.5)" stroke="#FF0000" stroke-width="0.35">R²=0.99</text>
<text font-family="Liberation Sans, sans-serif" font-size="7.7" text-anchor="middle" fill="#FF0000" font-weight="bold" transform="translate(163.20 471.00) rotate(-90.7)" stroke="#FF0000" stroke-width="0.35">R²=0.94</text>
<text font-family="Liberation Sans, sans-serif" font-size="7.7" text-anchor="middle" fill="#FF0000" font-weight="bold" transform="translate(182.80 473.70) rotate(-86.3)" stroke="#FF0000" stroke-width="0.35">R²=0.99</text>
<text font-family="Liberation Sans, sans-serif" font-size="7.7" text-anchor="middle" fill="#FF0000" font-weight="bold" transform="translate(207.00 475.50) rotate(-74.9)" stroke="#FF0000" stroke-width="0.35">R²=0.99</text>
<line x1="54.40" y1="616.40" x2="54.40" y2="614.20" stroke="#262626" stroke-width="0.5" />
<text transform="translate(54.40 633.00) scale(1.0 1.15)" font-family="Liberation Serif, serif" font-size="12" font-style="italic" text-anchor="middle" fill="#3a3a3a">0</text>
<line x1="112.50" y1="616.40" x2="112.50" y2="614.20" stroke="#262626" stroke-width="0.5" />
<text transform="translate(112.50 633.00) scale(1.0 1.15)" font-family="Liberation Serif, serif" font-size="12" font-style="italic" text-anchor="middle" fill="#3a3a3a">30</text>
<line x1="170.50" y1="616.40" x2="170.50" y2="614.20" stroke="#262626" stroke-width="0.5" />
<text transform="translate(170.50 633.00) scale(1.0 1.15)" font-family="Liberation Serif, serif" font-size="12" font-style="italic" text-anchor="middle" fill="#3a3a3a">60</text>
<line x1="226.60" y1="616.40" x2="226.60" y2="614.20" stroke="#262626" stroke-width="0.5" />
<text transform="translate(226.60 633.00) scale(1.0 1.15)" font-family="Liberation Serif, serif" font-size="12" font-style="italic" text-anchor="middle" fill="#3a3a3a">90</text>
<line x1="283.00" y1="616.40" x2="283.00" y2="614.20" stroke="#262626" stroke-width="0.5" />
<text transform="translate(283.00 633.00) scale(1.0 1.15)" font-family="Liberation Serif, serif" font-size="12" font-style="italic" text-anchor="middle" fill="#3a3a3a">120</text>
<line x1="54.40" y1="455.70" x2="56.60" y2="455.70" stroke="#555" stroke-width="0.5" />
<line x1="283.00" y1="455.70" x2="280.80" y2="455.70" stroke="#555" stroke-width="0.5" />
<text transform="translate(50.30 460.90) scale(1.0 1.13)" font-family="Liberation Serif, serif" font-size="12" font-style="italic" text-anchor="end" fill="#3a3a3a">3</text>
<line x1="54.40" y1="483.00" x2="56.60" y2="483.00" stroke="#555" stroke-width="0.5" />
<line x1="283.00" y1="483.00" x2="280.80" y2="483.00" stroke="#555" stroke-width="0.5" />
<text transform="translate(50.30 488.50) scale(1.0 1.13)" font-family="Liberation Serif, serif" font-size="12" font-style="italic" text-anchor="end" fill="#3a3a3a">2</text>
<line x1="54.40" y1="510.30" x2="56.60" y2="510.30" stroke="#555" stroke-width="0.5" />
<line x1="283.00" y1="510.30" x2="280.80" y2="510.30" stroke="#555" stroke-width="0.5" />
<text transform="translate(50.30 515.40) scale(1.0 1.13)" font-family="Liberation Serif, serif" font-size="12" font-style="italic" text-anchor="end" fill="#3a3a3a">1</text>
<line x1="54.40" y1="537.60" x2="56.60" y2="537.60" stroke="#555" stroke-width="0.5" />
<line x1="283.00" y1="537.60" x2="280.80" y2="537.60" stroke="#555" stroke-width="0.5" />
<text transform="translate(50.30 541.80) scale(1.0 1.13)" font-family="Liberation Serif, serif" font-size="12" font-style="italic" text-anchor="end" fill="#3a3a3a">0</text>
<line x1="54.40" y1="563.10" x2="56.60" y2="563.10" stroke="#262626" stroke-width="0.5" />
<line x1="283.00" y1="563.10" x2="280.80" y2="563.10" stroke="#262626" stroke-width="0.5" />
<text transform="translate(50.30 569.60) scale(1.0 1.13)" font-family="Liberation Serif, serif" font-size="12" font-style="italic" text-anchor="end" fill="#3a3a3a">-1</text>
<line x1="54.40" y1="590.35" x2="56.60" y2="590.35" stroke="#262626" stroke-width="0.5" />
<line x1="283.00" y1="590.35" x2="280.80" y2="590.35" stroke="#262626" stroke-width="0.5" />
<text transform="translate(50.30 596.50) scale(1.0 1.13)" font-family="Liberation Serif, serif" font-size="12" font-style="italic" text-anchor="end" fill="#3a3a3a">-2</text>
<line x1="54.40" y1="616.40" x2="56.60" y2="616.40" stroke="#262626" stroke-width="0.5" />
<line x1="283.00" y1="616.40" x2="280.80" y2="616.40" stroke="#262626" stroke-width="0.5" />
<text transform="translate(50.30 623.40) scale(1.0 1.13)" font-family="Liberation Serif, serif" font-size="12" font-style="italic" text-anchor="end" fill="#3a3a3a">-3</text>
<text font-family="Liberation Sans, sans-serif" font-size="11.5" text-anchor="middle" fill="#262626" stroke="#262626" stroke-width="0.2" transform="translate(34.00 500.30) rotate(-90)" >Level [km]</text>
<text font-family="Liberation Sans, sans-serif" font-size="11.5" text-anchor="middle" fill="#262626" stroke="#262626" stroke-width="0.2" transform="translate(34.00 588.50) rotate(-90)" >Depth [km]</text>
<text transform="translate(173.5 649.0) scale(0.985 1.06)" font-family="Liberation Sans, sans-serif" font-size="11.8" text-anchor="middle" fill="#262626">Distance [km]</text>
<text transform="translate(2.5 466.9) scale(0.876 1.03)" font-family="Liberation Sans, sans-serif" font-size="12.2" font-weight="bold" fill="#000">(e)</text>
<rect x="419.40" y="455.10" width="229.80" height="161.20" fill="none" stroke="#8e8e8e" stroke-width="1.35"/>
<rect x="418.60" y="454.60" width="231.40" height="82.40" fill="#000"/>
<line x1="477.60" y1="455.10" x2="477.60" y2="537.00" stroke="#151515" stroke-width="0.8" />
<line x1="535.80" y1="455.10" x2="535.80" y2="537.00" stroke="#151515" stroke-width="0.8" />
<line x1="592.60" y1="455.10" x2="592.60" y2="537.00" stroke="#151515" stroke-width="0.8" />
<line x1="419.40" y1="482.40" x2="649.20" y2="482.40" stroke="#151515" stroke-width="0.8" />
<line x1="419.40" y1="509.70" x2="649.20" y2="509.70" stroke="#151515" stroke-width="0.8" />
<defs><linearGradient id="ghf0" x1="0" y1="0" x2="1" y2="0"><stop offset="0.0000" stop-color="#fff" stop-opacity="0"/><stop offset="0.1818" stop-color="#fff" stop-opacity="0.07"/><stop offset="0.3636" stop-color="#fff" stop-opacity="0.12"/><stop offset="0.6364" stop-color="#fff" stop-opacity="0.12"/><stop offset="0.8182" stop-color="#fff" stop-opacity="0.07"/><stop offset="1.0000" stop-color="#fff" stop-opacity="0"/></linearGradient><linearGradient id="gvf0" x1="0" y1="0" x2="0" y2="1"><stop offset="0" stop-color="#fff" stop-opacity="1"/><stop offset="1" stop-color="#fff" stop-opacity="1"/></linearGradient><mask id="gmf0" maskUnits="userSpaceOnUse" x="524.00" y="455.1" width="22.00" height="81.90"><rect x="524.00" y="455.1" width="22.00" height="81.90" fill="url(#gvf0)"/></mask></defs>
<rect x="524.00" y="455.1" width="22.00" height="81.90" fill="url(#ghf0)" mask="url(#gmf0)"/>
<defs><linearGradient id="ghf1" x1="0" y1="0" x2="1" y2="0"><stop offset="0.0000" stop-color="#fff" stop-opacity="0"/><stop offset="0.1875" stop-color="#fff" stop-opacity="0.12"/><stop offset="0.3125" stop-color="#fff" stop-opacity="0.22"/><stop offset="0.4062" stop-color="#fff" stop-opacity="0.4"/><stop offset="0.5938" stop-color="#fff" stop-opacity="0.4"/><stop offset="0.6875" stop-color="#fff" stop-opacity="0.28"/><stop offset="0.8125" stop-color="#fff" stop-opacity="0.12"/><stop offset="1.0000" stop-color="#fff" stop-opacity="0"/></linearGradient><linearGradient id="gvf1" x1="0" y1="0" x2="0" y2="1"><stop offset="0" stop-color="#fff" stop-opacity="0"/><stop offset="0.3" stop-color="#fff" stop-opacity="0.15"/><stop offset="0.6" stop-color="#fff" stop-opacity="0.5"/><stop offset="1" stop-color="#fff" stop-opacity="1"/></linearGradient><mask id="gmf1" maskUnits="userSpaceOnUse" x="527.00" y="455.1" width="16.00" height="81.90"><rect x="527.00" y="455.1" width="16.00" height="81.90" fill="url(#gvf1)"/></mask></defs>
<rect x="527.00" y="455.1" width="16.00" height="81.90" fill="url(#ghf1)" mask="url(#gmf1)"/>
<defs><linearGradient id="ghf2" x1="0" y1="0" x2="1" y2="0"><stop offset="0.0000" stop-color="#fff" stop-opacity="0"/><stop offset="0.1562" stop-color="#fff" stop-opacity="0.3"/><stop offset="0.2969" stop-color="#fff" stop-opacity="0.75"/><stop offset="0.4062" stop-color="#fff" stop-opacity="1"/><stop offset="0.5938" stop-color="#fff" stop-opacity="1"/><stop offset="0.7031" stop-color="#fff" stop-opacity="0.75"/><stop offset="0.8438" stop-color="#fff" stop-opacity="0.3"/><stop offset="1.0000" stop-color="#fff" stop-opacity="0"/></linearGradient><linearGradient id="gvf2" x1="0" y1="0" x2="0" y2="1"><stop offset="0" stop-color="#fff" stop-opacity="0"/><stop offset="0.22" stop-color="#fff" stop-opacity="0"/><stop offset="0.36" stop-color="#fff" stop-opacity="0.08"/><stop offset="0.49" stop-color="#fff" stop-opacity="0.28"/><stop offset="0.62" stop-color="#fff" stop-opacity="0.5"/><stop offset="0.75" stop-color="#fff" stop-opacity="0.7"/><stop offset="0.88" stop-color="#fff" stop-opacity="0.88"/><stop offset="1" stop-color="#fff" stop-opacity="1"/></linearGradient><mask id="gmf2" maskUnits="userSpaceOnUse" x="532.20" y="455.1" width="6.40" height="81.90"><rect x="532.20" y="455.1" width="6.40" height="81.90" fill="url(#gvf2)"/></mask></defs>
<rect x="532.20" y="455.1" width="6.40" height="81.90" fill="url(#ghf2)" mask="url(#gmf2)"/>
<line x1="477.50" y1="537.00" x2="477.50" y2="616.30" stroke="#E8E8E8" stroke-width="1.0" />
<line x1="535.50" y1="537.00" x2="535.50" y2="616.30" stroke="#E8E8E8" stroke-width="1.0" />
<line x1="592.50" y1="537.00" x2="592.50" y2="616.30" stroke="#E8E8E8" stroke-width="1.0" />
<line x1="419.40" y1="562.50" x2="649.20" y2="562.50" stroke="#E8E8E8" stroke-width="1.0" />
<line x1="532.00" y1="537.00" x2="532.00" y2="616.30" stroke="#D8D8D8" stroke-width="0.6" />
<line x1="419.40" y1="590.35" x2="649.20" y2="590.35" stroke="#808080" stroke-width="1.0" />
<circle cx="496.20" cy="455.30" r="1.0" fill="#38D8E8"/>
<circle cx="496.93" cy="457.99" r="1.0" fill="#38D8E8"/>
<circle cx="497.66" cy="460.69" r="1.0" fill="#38D8E8"/>
<circle cx="498.39" cy="463.38" r="1.0" fill="#38D8E8"/>
<circle cx="499.12" cy="466.07" r="1.0" fill="#38D8E8"/>
<circle cx="499.85" cy="468.77" r="1.0" fill="#38D8E8"/>
<circle cx="500.58" cy="471.46" r="1.0" fill="#38D8E8"/>
<circle cx="501.31" cy="474.15" r="1.0" fill="#38D8E8"/>
<circle cx="502.04" cy="476.85" r="1.0" fill="#38D8E8"/>
<circle cx="502.77" cy="479.54" r="1.0" fill="#38D8E8"/>
<circle cx="503.50" cy="482.23" r="1.0" fill="#38D8E8"/>
<circle cx="504.23" cy="484.93" r="1.0" fill="#38D8E8"/>
<circle cx="504.96" cy="487.62" r="1.0" fill="#38D8E8"/>
<circle cx="505.69" cy="490.31" r="1.0" fill="#38D8E8"/>
<circle cx="506.42" cy="493.01" r="1.0" fill="#38D8E8"/>
<circle cx="507.15" cy="495.70" r="1.0" fill="#38D8E8"/>
<circle cx="507.88" cy="498.39" r="1.0" fill="#38D8E8"/>
<circle cx="508.61" cy="501.09" r="1.0" fill="#38D8E8"/>
<circle cx="509.34" cy="503.78" r="1.0" fill="#38D8E8"/>
<circle cx="510.07" cy="506.47" r="1.0" fill="#38D8E8"/>
<circle cx="510.80" cy="509.17" r="1.0" fill="#38D8E8"/>
<circle cx="511.53" cy="511.86" r="1.0" fill="#38D8E8"/>
<circle cx="512.26" cy="514.55" r="1.0" fill="#38D8E8"/>
<circle cx="512.99" cy="517.25" r="1.0" fill="#38D8E8"/>
<circle cx="513.72" cy="519.94" r="1.0" fill="#38D8E8"/>
<circle cx="514.45" cy="522.63" r="1.0" fill="#38D8E8"/>
<circle cx="515.18" cy="525.33" r="1.0" fill="#38D8E8"/>
<circle cx="515.91" cy="528.02" r="1.0" fill="#38D8E8"/>
<circle cx="516.64" cy="530.71" r="1.0" fill="#38D8E8"/>
<circle cx="517.37" cy="533.41" r="1.0" fill="#38D8E8"/>
<circle cx="518.10" cy="536.10" r="1.0" fill="#38D8E8"/>
<circle cx="523.80" cy="457.20" r="1.15" fill="#ECB400"/>
<circle cx="523.96" cy="459.83" r="1.15" fill="#ECB400"/>
<circle cx="524.11" cy="462.46" r="1.15" fill="#ECB400"/>
<circle cx="524.27" cy="465.09" r="1.15" fill="#ECB400"/>
<circle cx="524.43" cy="467.72" r="1.15" fill="#ECB400"/>
<circle cx="524.58" cy="470.35" r="1.15" fill="#ECB400"/>
<circle cx="524.74" cy="472.98" r="1.15" fill="#ECB400"/>
<circle cx="524.90" cy="475.61" r="1.15" fill="#ECB400"/>
<circle cx="525.05" cy="478.24" r="1.15" fill="#ECB400"/>
<circle cx="525.21" cy="480.87" r="1.15" fill="#ECB400"/>
<circle cx="525.37" cy="483.50" r="1.15" fill="#ECB400"/>
<circle cx="525.52" cy="486.13" r="1.15" fill="#ECB400"/>
<circle cx="525.68" cy="488.76" r="1.15" fill="#ECB400"/>
<circle cx="525.84" cy="491.39" r="1.15" fill="#ECB400"/>
<circle cx="525.99" cy="494.02" r="1.15" fill="#ECB400"/>
<circle cx="526.15" cy="496.65" r="1.15" fill="#ECB400"/>
<circle cx="526.31" cy="499.28" r="1.15" fill="#ECB400"/>
<circle cx="526.46" cy="501.91" r="1.15" fill="#ECB400"/>
<circle cx="526.62" cy="504.54" r="1.15" fill="#ECB400"/>
<circle cx="526.78" cy="507.17" r="1.15" fill="#ECB400"/>
<circle cx="526.93" cy="509.80" r="1.15" fill="#ECB400"/>
<circle cx="527.09" cy="512.43" r="1.15" fill="#ECB400"/>
<circle cx="527.25" cy="515.06" r="1.15" fill="#ECB400"/>
<circle cx="527.40" cy="517.69" r="1.15" fill="#ECB400"/>
<circle cx="527.56" cy="520.32" r="1.15" fill="#ECB400"/>
<circle cx="527.72" cy="522.95" r="1.15" fill="#ECB400"/>
<circle cx="527.87" cy="525.58" r="1.15" fill="#ECB400"/>
<circle cx="528.03" cy="528.21" r="1.15" fill="#ECB400"/>
<circle cx="528.19" cy="530.84" r="1.15" fill="#ECB400"/>
<circle cx="528.34" cy="533.47" r="1.15" fill="#ECB400"/>
<circle cx="528.50" cy="536.10" r="1.15" fill="#ECB400"/>
<circle cx="553.30" cy="457.20" r="1.15" fill="#ECB400"/>
<circle cx="552.90" cy="459.83" r="1.15" fill="#ECB400"/>
<circle cx="552.51" cy="462.46" r="1.15" fill="#ECB400"/>
<circle cx="552.11" cy="465.09" r="1.15" fill="#ECB400"/>
<circle cx="551.71" cy="467.72" r="1.15" fill="#ECB400"/>
<circle cx="551.32" cy="470.35" r="1.15" fill="#ECB400"/>
<circle cx="550.92" cy="472.98" r="1.15" fill="#ECB400"/>
<circle cx="550.52" cy="475.61" r="1.15" fill="#ECB400"/>
<circle cx="550.13" cy="478.24" r="1.15" fill="#ECB400"/>
<circle cx="549.73" cy="480.87" r="1.15" fill="#ECB400"/>
<circle cx="549.33" cy="483.50" r="1.15" fill="#ECB400"/>
<circle cx="548.94" cy="486.13" r="1.15" fill="#ECB400"/>
<circle cx="548.54" cy="488.76" r="1.15" fill="#ECB400"/>
<circle cx="548.14" cy="491.39" r="1.15" fill="#ECB400"/>
<circle cx="547.75" cy="494.02" r="1.15" fill="#ECB400"/>
<circle cx="547.35" cy="496.65" r="1.15" fill="#ECB400"/>
<circle cx="546.95" cy="499.28" r="1.15" fill="#ECB400"/>
<circle cx="546.56" cy="501.91" r="1.15" fill="#ECB400"/>
<circle cx="546.16" cy="504.54" r="1.15" fill="#ECB400"/>
<circle cx="545.76" cy="507.17" r="1.15" fill="#ECB400"/>
<circle cx="545.37" cy="509.80" r="1.15" fill="#ECB400"/>
<circle cx="544.97" cy="512.43" r="1.15" fill="#ECB400"/>
<circle cx="544.57" cy="515.06" r="1.15" fill="#ECB400"/>
<circle cx="544.18" cy="517.69" r="1.15" fill="#ECB400"/>
<circle cx="543.78" cy="520.32" r="1.15" fill="#ECB400"/>
<circle cx="543.38" cy="522.95" r="1.15" fill="#ECB400"/>
<circle cx="542.99" cy="525.58" r="1.15" fill="#ECB400"/>
<circle cx="542.59" cy="528.21" r="1.15" fill="#ECB400"/>
<circle cx="542.19" cy="530.84" r="1.15" fill="#ECB400"/>
<circle cx="541.80" cy="533.47" r="1.15" fill="#ECB400"/>
<circle cx="541.40" cy="536.10" r="1.15" fill="#ECB400"/>
<line x1="496.20" y1="455.30" x2="518.10" y2="537.00" stroke="#FF1818" stroke-width="0.65" />
<line x1="518.10" y1="537.00" x2="532.40" y2="590.35" stroke="#FF1818" stroke-width="1.0" />
<line x1="523.80" y1="457.20" x2="528.95" y2="537.00" stroke="#FF1818" stroke-width="0.65" />
<line x1="528.95" y1="537.00" x2="532.40" y2="590.35" stroke="#FF1818" stroke-width="1.0" />
<line x1="533.30" y1="455.30" x2="532.76" y2="537.00" stroke="#FF1818" stroke-width="0.65" />
<line x1="532.76" y1="537.00" x2="532.40" y2="590.35" stroke="#FF1818" stroke-width="1.0" />
<line x1="553.30" y1="457.20" x2="540.77" y2="537.00" stroke="#FF1818" stroke-width="0.65" />
<line x1="540.77" y1="537.00" x2="532.40" y2="590.35" stroke="#FF1818" stroke-width="1.0" />
<circle cx="533.78" cy="455.30" r="0.55" fill="#38D8E8"/>
<circle cx="533.79" cy="457.99" r="0.55" fill="#38D8E8"/>
<circle cx="533.79" cy="460.69" r="0.55" fill="#38D8E8"/>
<circle cx="533.80" cy="463.38" r="0.55" fill="#38D8E8"/>
<circle cx="533.81" cy="466.07" r="0.55" fill="#38D8E8"/>
<circle cx="533.82" cy="468.77" r="0.55" fill="#38D8E8"/>
<circle cx="533.82" cy="471.46" r="0.55" fill="#38D8E8"/>
<circle cx="533.83" cy="474.15" r="0.55" fill="#38D8E8"/>
<circle cx="533.84" cy="476.85" r="0.55" fill="#38D8E8"/>
<circle cx="533.85" cy="479.54" r="0.55" fill="#38D8E8"/>
<circle cx="533.85" cy="482.23" r="0.55" fill="#38D8E8"/>
<circle cx="533.86" cy="484.93" r="0.55" fill="#38D8E8"/>
<circle cx="533.87" cy="487.62" r="0.55" fill="#38D8E8"/>
<circle cx="533.88" cy="490.31" r="0.55" fill="#38D8E8"/>
<circle cx="533.88" cy="493.01" r="0.55" fill="#38D8E8"/>
<circle cx="533.89" cy="495.70" r="0.55" fill="#38D8E8"/>
<circle cx="533.90" cy="498.39" r="0.55" fill="#38D8E8"/>
<circle cx="533.90" cy="501.09" r="0.55" fill="#38D8E8"/>
<circle cx="533.91" cy="503.78" r="0.55" fill="#38D8E8"/>
<circle cx="533.92" cy="506.47" r="0.55" fill="#38D8E8"/>
<circle cx="533.93" cy="509.17" r="0.55" fill="#38D8E8"/>
<circle cx="533.93" cy="511.86" r="0.55" fill="#38D8E8"/>
<circle cx="533.94" cy="514.55" r="0.55" fill="#38D8E8"/>
<circle cx="533.95" cy="517.25" r="0.55" fill="#38D8E8"/>
<circle cx="533.96" cy="519.94" r="0.55" fill="#38D8E8"/>
<circle cx="533.96" cy="522.63" r="0.55" fill="#38D8E8"/>
<circle cx="533.97" cy="525.33" r="0.55" fill="#38D8E8"/>
<circle cx="533.98" cy="528.02" r="0.55" fill="#38D8E8"/>
<circle cx="533.99" cy="530.71" r="0.55" fill="#38D8E8"/>
<circle cx="533.99" cy="533.41" r="0.55" fill="#38D8E8"/>
<circle cx="534.00" cy="536.10" r="0.55" fill="#38D8E8"/>
<text font-family="Liberation Sans, sans-serif" font-size="7.7" text-anchor="middle" fill="#FF0000" font-weight="bold" transform="translate(501.80 482.00) rotate(-105.1)" stroke="#FF0000" stroke-width="0.35">R²=0.99</text>
<text font-family="Liberation Sans, sans-serif" font-size="7.7" text-anchor="middle" fill="#FF0000" font-weight="bold" transform="translate(522.30 471.70) rotate(-93.4)" stroke="#FF0000" stroke-width="0.35">R²=0.99</text>
<text font-family="Liberation Sans, sans-serif" font-size="7.7" text-anchor="middle" fill="#FF0000" font-weight="bold" transform="translate(541.70 473.00) rotate(-90.0)" stroke="#FF0000" stroke-width="0.35">R²=0.94</text>
<text font-family="Liberation Sans, sans-serif" font-size="7.7" text-anchor="middle" fill="#FF0000" font-weight="bold" transform="translate(559.00 476.80) rotate(-80.8)" stroke="#FF0000" stroke-width="0.35">R²=0.99</text>
<line x1="419.40" y1="616.30" x2="419.40" y2="614.10" stroke="#262626" stroke-width="0.5" />
<text transform="translate(419.40 633.00) scale(1.0 1.15)" font-family="Liberation Serif, serif" font-size="12" font-style="italic" text-anchor="middle" fill="#3a3a3a">0</text>
<line x1="477.60" y1="616.30" x2="477.60" y2="614.10" stroke="#262626" stroke-width="0.5" />
<text transform="translate(477.60 633.00) scale(1.0 1.15)" font-family="Liberation Serif, serif" font-size="12" font-style="italic" text-anchor="middle" fill="#3a3a3a">30</text>
<line x1="535.80" y1="616.30" x2="535.80" y2="614.10" stroke="#262626" stroke-width="0.5" />
<text transform="translate(535.80 633.00) scale(1.0 1.15)" font-family="Liberation Serif, serif" font-size="12" font-style="italic" text-anchor="middle" fill="#3a3a3a">60</text>
<line x1="592.60" y1="616.30" x2="592.60" y2="614.10" stroke="#262626" stroke-width="0.5" />
<text transform="translate(592.60 633.00) scale(1.0 1.15)" font-family="Liberation Serif, serif" font-size="12" font-style="italic" text-anchor="middle" fill="#3a3a3a">90</text>
<line x1="649.20" y1="616.30" x2="649.20" y2="614.10" stroke="#262626" stroke-width="0.5" />
<text transform="translate(649.20 633.00) scale(1.0 1.15)" font-family="Liberation Serif, serif" font-size="12" font-style="italic" text-anchor="middle" fill="#3a3a3a">120</text>
<line x1="419.40" y1="455.10" x2="421.60" y2="455.10" stroke="#555" stroke-width="0.5" />
<line x1="649.20" y1="455.10" x2="647.00" y2="455.10" stroke="#555" stroke-width="0.5" />
<text transform="translate(415.10 460.10) scale(1.0 1.13)" font-family="Liberation Serif, serif" font-size="12" font-style="italic" text-anchor="end" fill="#3a3a3a">3</text>
<line x1="419.40" y1="482.40" x2="421.60" y2="482.40" stroke="#555" stroke-width="0.5" />
<line x1="649.20" y1="482.40" x2="647.00" y2="482.40" stroke="#555" stroke-width="0.5" />
<text transform="translate(415.10 487.80) scale(1.0 1.13)" font-family="Liberation Serif, serif" font-size="12" font-style="italic" text-anchor="end" fill="#3a3a3a">2</text>
<line x1="419.40" y1="509.70" x2="421.60" y2="509.70" stroke="#555" stroke-width="0.5" />
<line x1="649.20" y1="509.70" x2="647.00" y2="509.70" stroke="#555" stroke-width="0.5" />
<text transform="translate(415.10 514.80) scale(1.0 1.13)" font-family="Liberation Serif, serif" font-size="12" font-style="italic" text-anchor="end" fill="#3a3a3a">1</text>
<line x1="419.40" y1="537.00" x2="421.60" y2="537.00" stroke="#555" stroke-width="0.5" />
<line x1="649.20" y1="537.00" x2="647.00" y2="537.00" stroke="#555" stroke-width="0.5" />
<text transform="translate(415.10 541.40) scale(1.0 1.13)" font-family="Liberation Serif, serif" font-size="12" font-style="italic" text-anchor="end" fill="#3a3a3a">0</text>
<line x1="419.40" y1="562.30" x2="421.60" y2="562.30" stroke="#262626" stroke-width="0.5" />
<line x1="649.20" y1="562.30" x2="647.00" y2="562.30" stroke="#262626" stroke-width="0.5" />
<text transform="translate(415.10 569.30) scale(1.0 1.13)" font-family="Liberation Serif, serif" font-size="12" font-style="italic" text-anchor="end" fill="#3a3a3a">-1</text>
<line x1="419.40" y1="590.35" x2="421.60" y2="590.35" stroke="#262626" stroke-width="0.5" />
<line x1="649.20" y1="590.35" x2="647.00" y2="590.35" stroke="#262626" stroke-width="0.5" />
<text transform="translate(415.10 596.10) scale(1.0 1.13)" font-family="Liberation Serif, serif" font-size="12" font-style="italic" text-anchor="end" fill="#3a3a3a">-2</text>
<line x1="419.40" y1="616.30" x2="421.60" y2="616.30" stroke="#262626" stroke-width="0.5" />
<line x1="649.20" y1="616.30" x2="647.00" y2="616.30" stroke="#262626" stroke-width="0.5" />
<text transform="translate(415.10 623.60) scale(1.0 1.13)" font-family="Liberation Serif, serif" font-size="12" font-style="italic" text-anchor="end" fill="#3a3a3a">-3</text>
<text font-family="Liberation Sans, sans-serif" font-size="11.5" text-anchor="middle" fill="#262626" stroke="#262626" stroke-width="0.2" transform="translate(395.70 499.40) rotate(-90)" >Level [km]</text>
<text font-family="Liberation Sans, sans-serif" font-size="11.5" text-anchor="middle" fill="#262626" stroke="#262626" stroke-width="0.2" transform="translate(395.70 588.30) rotate(-90)" >Depth [km]</text>
<text transform="translate(536.8 649.0) scale(0.985 1.06)" font-family="Liberation Sans, sans-serif" font-size="11.8" text-anchor="middle" fill="#262626">Distance [km]</text>
<text transform="translate(364.6 466.3) scale(0.887 1.03)" font-family="Liberation Sans, sans-serif" font-size="12.2" font-weight="bold" fill="#000">(f)</text>
<rect x="57.6" y="665.4" width="233.40" height="113.10" fill="#fff"/>
<line x1="94.50" y1="665.40" x2="94.50" y2="778.50" stroke="#E8E8E8" stroke-width="1.0" />
<line x1="147.50" y1="665.40" x2="147.50" y2="778.50" stroke="#E8E8E8" stroke-width="1.0" />
<line x1="200.50" y1="665.40" x2="200.50" y2="778.50" stroke="#E8E8E8" stroke-width="1.0" />
<line x1="253.50" y1="665.40" x2="253.50" y2="778.50" stroke="#E8E8E8" stroke-width="1.0" />
<line x1="57.60" y1="722.50" x2="291.00" y2="722.50" stroke="#E8E8E8" stroke-width="1.0" />
<line x1="94.40" y1="722.00" x2="246.87" y2="722.00" stroke="#0000FF" stroke-width="1.8" />
<path d="M90.40 722.0H98.40M94.40 718.0V726.0M91.50 719.1L97.30 724.9M91.50 724.9L97.30 719.1M92.57 722.0H100.57M96.57 718.0V726.0M93.67 719.1L99.47 724.9M93.67 724.9L99.47 719.1M94.82 722.0H102.82M98.82 718.0V726.0M95.92 719.1L101.72 724.9M95.92 724.9L101.72 719.1M97.17 722.0H105.17M101.17 718.0V726.0M98.27 719.1L104.07 724.9M98.27 724.9L104.07 719.1M99.63 722.0H107.63M103.63 718.0V726.0M100.73 719.1L106.53 724.9M100.73 724.9L106.53 719.1M102.19 722.0H110.19M106.19 718.0V726.0M103.29 719.1L109.09 724.9M103.29 724.9L109.09 719.1M104.87 722.0H112.87M108.87 718.0V726.0M105.97 719.1L111.77 724.9M105.97 724.9L111.77 719.1M107.67 722.0H115.67M111.67 718.0V726.0M108.77 719.1L114.57 724.9M108.77 724.9L114.57 719.1M110.61 722.0H118.61M114.61 718.0V726.0M111.71 719.1L117.51 724.9M111.71 724.9L117.51 719.1M113.69 722.0H121.69M117.69 718.0V726.0M114.79 719.1L120.59 724.9M114.79 724.9L120.59 719.1M116.92 722.0H124.92M120.92 718.0V726.0M118.02 719.1L123.83 724.9M118.02 724.9L123.83 719.1M120.33 722.0H128.33M124.33 718.0V726.0M121.43 719.1L127.23 724.9M121.43 724.9L127.23 719.1M123.91 722.0H131.91M127.91 718.0V726.0M125.01 719.1L130.81 724.9M125.01 724.9L130.81 719.1M127.68 722.0H135.68M131.68 718.0V726.0M128.78 719.1L134.58 724.9M128.78 724.9L134.58 719.1M131.66 722.0H139.66M135.66 718.0V726.0M132.76 719.1L138.56 724.9M132.76 724.9L138.56 719.1M135.87 722.0H143.87M139.87 718.0V726.0M136.97 719.1L142.77 724.9M136.97 724.9L142.77 719.1M140.33 722.0H148.33M144.33 718.0V726.0M141.43 719.1L147.23 724.9M141.43 724.9L147.23 719.1M145.06 722.0H153.06M149.06 718.0V726.0M146.16 719.1L151.96 724.9M146.16 724.9L151.96 719.1M150.08 722.0H158.08M154.08 718.0V726.0M151.18 719.1L156.98 724.9M151.18 724.9L156.98 719.1M155.43 722.0H163.43M159.43 718.0V726.0M156.53 719.1L162.33 724.9M156.53 724.9L162.33 719.1M161.13 722.0H169.13M165.13 718.0V726.0M162.23 719.1L168.03 724.9M162.23 724.9L168.03 719.1M167.23 722.0H175.23M171.23 718.0V726.0M168.33 719.1L174.13 724.9M168.33 724.9L174.13 719.1M173.76 722.0H181.76M177.76 718.0V726.0M174.86 719.1L180.66 724.9M174.86 724.9L180.66 719.1M180.78 722.0H188.78M184.78 718.0V726.0M181.88 719.1L187.68 724.9M181.88 724.9L187.68 719.1M188.34 722.0H196.34M192.34 718.0V726.0M189.44 719.1L195.24 724.9M189.44 724.9L195.24 719.1M196.50 722.0H204.50M200.50 718.0V726.0M197.60 719.1L203.40 724.9M197.60 724.9L203.40 719.1M205.34 722.0H213.34M209.34 718.0V726.0M206.44 719.1L212.24 724.9M206.44 724.9L212.24 719.1M214.95 722.0H222.95M218.95 718.0V726.0M216.05 719.1L221.85 724.9M216.05 724.9L221.85 719.1M225.44 722.0H233.44M229.44 718.0V726.0M226.54 719.1L232.34 724.9M226.54 724.9L232.34 719.1M238.78 722.0H246.78M242.78 718.0V726.0M239.88 719.1L245.68 724.9M239.88 724.9L245.68 719.1M242.87 722.0H250.87M246.87 718.0V726.0M243.97 719.1L249.77 724.9M243.97 724.9L249.77 719.1" stroke="#0000FF" stroke-width="1.55" fill="none"/>
<rect x="57.60" y="665.40" width="233.40" height="113.10" fill="none" stroke="#707070" stroke-width="1.3"/>
<line x1="94.40" y1="778.50" x2="94.40" y2="776.00" stroke="#707070" stroke-width="0.8" />
<line x1="94.40" y1="665.40" x2="94.40" y2="667.90" stroke="#707070" stroke-width="0.8" />
<text transform="translate(93.80 800.3) scale(1.02 1.14)" font-family="Liberation Serif, serif" font-size="17.4" font-style="italic" text-anchor="middle" fill="#3a3a3a">0.2</text>
<line x1="147.45" y1="778.50" x2="147.45" y2="776.00" stroke="#707070" stroke-width="0.8" />
<line x1="147.45" y1="665.40" x2="147.45" y2="667.90" stroke="#707070" stroke-width="0.8" />
<text transform="translate(146.85 800.3) scale(1.02 1.14)" font-family="Liberation Serif, serif" font-size="17.4" font-style="italic" text-anchor="middle" fill="#3a3a3a">0.3</text>
<line x1="200.50" y1="778.50" x2="200.50" y2="776.00" stroke="#707070" stroke-width="0.8" />
<line x1="200.50" y1="665.40" x2="200.50" y2="667.90" stroke="#707070" stroke-width="0.8" />
<text transform="translate(199.90 800.3) scale(1.02 1.14)" font-family="Liberation Serif, serif" font-size="17.4" font-style="italic" text-anchor="middle" fill="#3a3a3a">0.4</text>
<line x1="253.55" y1="778.50" x2="253.55" y2="776.00" stroke="#707070" stroke-width="0.8" />
<line x1="253.55" y1="665.40" x2="253.55" y2="667.90" stroke="#707070" stroke-width="0.8" />
<text transform="translate(252.95 800.3) scale(1.02 1.14)" font-family="Liberation Serif, serif" font-size="17.4" font-style="italic" text-anchor="middle" fill="#3a3a3a">0.5</text>
<line x1="57.60" y1="665.40" x2="60.10" y2="665.40" stroke="#707070" stroke-width="0.8" />
<line x1="291.00" y1="665.40" x2="288.50" y2="665.40" stroke="#707070" stroke-width="0.8" />
<text transform="translate(52.00 672.10) scale(1.03 1.15)" font-family="Liberation Serif, serif" font-size="17.4" font-style="italic" text-anchor="end" fill="#3a3a3a">-1.5</text>
<line x1="57.60" y1="722.00" x2="60.10" y2="722.00" stroke="#707070" stroke-width="0.8" />
<line x1="291.00" y1="722.00" x2="288.50" y2="722.00" stroke="#707070" stroke-width="0.8" />
<text transform="translate(52.00 728.70) scale(1.03 1.15)" font-family="Liberation Serif, serif" font-size="17.4" font-style="italic" text-anchor="end" fill="#3a3a3a">-2</text>
<line x1="57.60" y1="778.50" x2="60.10" y2="778.50" stroke="#707070" stroke-width="0.8" />
<line x1="291.00" y1="778.50" x2="288.50" y2="778.50" stroke="#707070" stroke-width="0.8" />
<text transform="translate(52.00 785.20) scale(1.03 1.15)" font-family="Liberation Serif, serif" font-size="17.4" font-style="italic" text-anchor="end" fill="#3a3a3a">-2.5</text>
<text font-family="Liberation Sans, sans-serif" font-size="11.4" text-anchor="middle" fill="#262626" stroke="#262626" stroke-width="0.2" transform="translate(19.00 725.00) rotate(-90)" >∂ log(χ)/ ∂ log(z)</text>
<text x="175.80" y="813.60" font-family="Liberation Sans, sans-serif" font-size="11.3" text-anchor="middle" fill="#262626" stroke="#262626" stroke-width="0.2" >∂ log(z)/ ∂ z</text>
<text transform="translate(2.6 660.4) scale(0.944 1.0)" font-family="Liberation Sans, sans-serif" font-size="12.2" font-weight="bold" fill="#000">(g)</text>
<rect x="422.6" y="665.4" width="233.10" height="113.10" fill="#fff"/>
<line x1="459.50" y1="665.40" x2="459.50" y2="778.50" stroke="#E8E8E8" stroke-width="1.0" />
<line x1="512.50" y1="665.40" x2="512.50" y2="778.50" stroke="#E8E8E8" stroke-width="1.0" />
<line x1="565.50" y1="665.40" x2="565.50" y2="778.50" stroke="#E8E8E8" stroke-width="1.0" />
<line x1="618.50" y1="665.40" x2="618.50" y2="778.50" stroke="#E8E8E8" stroke-width="1.0" />
<line x1="422.60" y1="722.50" x2="655.70" y2="722.50" stroke="#E8E8E8" stroke-width="1.0" />
<line x1="459.40" y1="722.00" x2="611.72" y2="722.00" stroke="#0000FF" stroke-width="1.8" />
<path d="M455.40 722.0H463.40M459.40 718.0V726.0M456.50 719.1L462.30 724.9M456.50 724.9L462.30 719.1M457.56 722.0H465.56M461.56 718.0V726.0M458.66 719.1L464.46 724.9M458.66 724.9L464.46 719.1M459.82 722.0H467.82M463.82 718.0V726.0M460.92 719.1L466.72 724.9M460.92 724.9L466.72 719.1M462.17 722.0H470.17M466.17 718.0V726.0M463.27 719.1L469.07 724.9M463.27 724.9L469.07 719.1M464.62 722.0H472.62M468.62 718.0V726.0M465.72 719.1L471.52 724.9M465.72 724.9L471.52 719.1M467.18 722.0H475.18M471.18 718.0V726.0M468.28 719.1L474.08 724.9M468.28 724.9L474.08 719.1M469.85 722.0H477.85M473.85 718.0V726.0M470.95 719.1L476.75 724.9M470.95 724.9L476.75 719.1M472.66 722.0H480.66M476.66 718.0V726.0M473.76 719.1L479.56 724.9M473.76 724.9L479.56 719.1M475.59 722.0H483.59M479.59 718.0V726.0M476.69 719.1L482.49 724.9M476.69 724.9L482.49 719.1M478.67 722.0H486.67M482.67 718.0V726.0M479.77 719.1L485.57 724.9M479.77 724.9L485.57 719.1M481.90 722.0H489.90M485.90 718.0V726.0M483.00 719.1L488.80 724.9M483.00 724.9L488.80 719.1M485.30 722.0H493.30M489.30 718.0V726.0M486.40 719.1L492.20 724.9M486.40 724.9L492.20 719.1M488.87 722.0H496.87M492.87 718.0V726.0M489.97 719.1L495.77 724.9M489.97 724.9L495.77 719.1M492.64 722.0H500.64M496.64 718.0V726.0M493.74 719.1L499.54 724.9M493.74 724.9L499.54 719.1M496.62 722.0H504.62M500.62 718.0V726.0M497.72 719.1L503.52 724.9M497.72 724.9L503.52 719.1M500.83 722.0H508.83M504.83 718.0V726.0M501.93 719.1L507.73 724.9M501.93 724.9L507.73 719.1M505.28 722.0H513.28M509.28 718.0V726.0M506.38 719.1L512.18 724.9M506.38 724.9L512.18 719.1M510.01 722.0H518.01M514.01 718.0V726.0M511.11 719.1L516.91 724.9M511.11 724.9L516.91 719.1M515.02 722.0H523.02M519.02 718.0V726.0M516.12 719.1L521.92 724.9M516.12 724.9L521.92 719.1M520.37 722.0H528.37M524.37 718.0V726.0M521.47 719.1L527.27 724.9M521.47 724.9L527.27 719.1M526.07 722.0H534.07M530.07 718.0V726.0M527.17 719.1L532.97 724.9M527.17 724.9L532.97 719.1M532.16 722.0H540.16M536.16 718.0V726.0M533.26 719.1L539.06 724.9M533.26 724.9L539.06 719.1M538.69 722.0H546.69M542.69 718.0V726.0M539.79 719.1L545.59 724.9M539.79 724.9L545.59 719.1M545.70 722.0H553.70M549.70 718.0V726.0M546.80 719.1L552.60 724.9M546.80 724.9L552.60 719.1M553.25 722.0H561.25M557.25 718.0V726.0M554.35 719.1L560.15 724.9M554.35 724.9L560.15 719.1M561.40 722.0H569.40M565.40 718.0V726.0M562.50 719.1L568.30 724.9M562.50 724.9L568.30 719.1M570.23 722.0H578.23M574.23 718.0V726.0M571.33 719.1L577.13 724.9M571.33 724.9L577.13 719.1M579.83 722.0H587.83M583.83 718.0V726.0M580.93 719.1L586.73 724.9M580.93 724.9L586.73 719.1M590.31 722.0H598.31M594.31 718.0V726.0M591.41 719.1L597.21 724.9M591.41 724.9L597.21 719.1M603.64 722.0H611.64M607.64 718.0V726.0M604.74 719.1L610.54 724.9M604.74 724.9L610.54 719.1M607.72 722.0H615.72M611.72 718.0V726.0M608.82 719.1L614.62 724.9M608.82 724.9L614.62 719.1" stroke="#0000FF" stroke-width="1.55" fill="none"/>
<rect x="422.60" y="665.40" width="233.10" height="113.10" fill="none" stroke="#707070" stroke-width="1.3"/>
<line x1="459.40" y1="778.50" x2="459.40" y2="776.00" stroke="#707070" stroke-width="0.8" />
<line x1="459.40" y1="665.40" x2="459.40" y2="667.90" stroke="#707070" stroke-width="0.8" />
<text transform="translate(458.80 800.3) scale(1.02 1.14)" font-family="Liberation Serif, serif" font-size="17.4" font-style="italic" text-anchor="middle" fill="#3a3a3a">0.2</text>
<line x1="512.40" y1="778.50" x2="512.40" y2="776.00" stroke="#707070" stroke-width="0.8" />
<line x1="512.40" y1="665.40" x2="512.40" y2="667.90" stroke="#707070" stroke-width="0.8" />
<text transform="translate(511.80 800.3) scale(1.02 1.14)" font-family="Liberation Serif, serif" font-size="17.4" font-style="italic" text-anchor="middle" fill="#3a3a3a">0.3</text>
<line x1="565.40" y1="778.50" x2="565.40" y2="776.00" stroke="#707070" stroke-width="0.8" />
<line x1="565.40" y1="665.40" x2="565.40" y2="667.90" stroke="#707070" stroke-width="0.8" />
<text transform="translate(564.80 800.3) scale(1.02 1.14)" font-family="Liberation Serif, serif" font-size="17.4" font-style="italic" text-anchor="middle" fill="#3a3a3a">0.4</text>
<line x1="618.40" y1="778.50" x2="618.40" y2="776.00" stroke="#707070" stroke-width="0.8" />
<line x1="618.40" y1="665.40" x2="618.40" y2="667.90" stroke="#707070" stroke-width="0.8" />
<text transform="translate(617.80 800.3) scale(1.02 1.14)" font-family="Liberation Serif, serif" font-size="17.4" font-style="italic" text-anchor="middle" fill="#3a3a3a">0.5</text>
<line x1="422.60" y1="665.40" x2="425.10" y2="665.40" stroke="#707070" stroke-width="0.8" />
<line x1="655.70" y1="665.40" x2="653.20" y2="665.40" stroke="#707070" stroke-width="0.8" />
<text transform="translate(417.00 672.10) scale(1.03 1.15)" font-family="Liberation Serif, serif" font-size="17.4" font-style="italic" text-anchor="end" fill="#3a3a3a">-1.5</text>
<line x1="422.60" y1="722.00" x2="425.10" y2="722.00" stroke="#707070" stroke-width="0.8" />
<line x1="655.70" y1="722.00" x2="653.20" y2="722.00" stroke="#707070" stroke-width="0.8" />
<text transform="translate(417.00 728.70) scale(1.03 1.15)" font-family="Liberation Serif, serif" font-size="17.4" font-style="italic" text-anchor="end" fill="#3a3a3a">-2</text>
<line x1="422.60" y1="778.50" x2="425.10" y2="778.50" stroke="#707070" stroke-width="0.8" />
<line x1="655.70" y1="778.50" x2="653.20" y2="778.50" stroke="#707070" stroke-width="0.8" />
<text transform="translate(417.00 785.20) scale(1.03 1.15)" font-family="Liberation Serif, serif" font-size="17.4" font-style="italic" text-anchor="end" fill="#3a3a3a">-2.5</text>
<text font-family="Liberation Sans, sans-serif" font-size="11.4" text-anchor="middle" fill="#262626" stroke="#262626" stroke-width="0.2" transform="translate(381.40 725.00) rotate(-90)" >∂ log(χ)/ ∂ log(z)</text>
<text x="540.65" y="813.60" font-family="Liberation Sans, sans-serif" font-size="11.3" text-anchor="middle" fill="#262626" stroke="#262626" stroke-width="0.2" >∂ log(z)/ ∂ z</text>
<text transform="translate(364.6 660.5) scale(0.96 1.0)" font-family="Liberation Sans, sans-serif" font-size="12.2" font-weight="bold" fill="#000">(h)</text>
</g>
</svg>
</body></html>
